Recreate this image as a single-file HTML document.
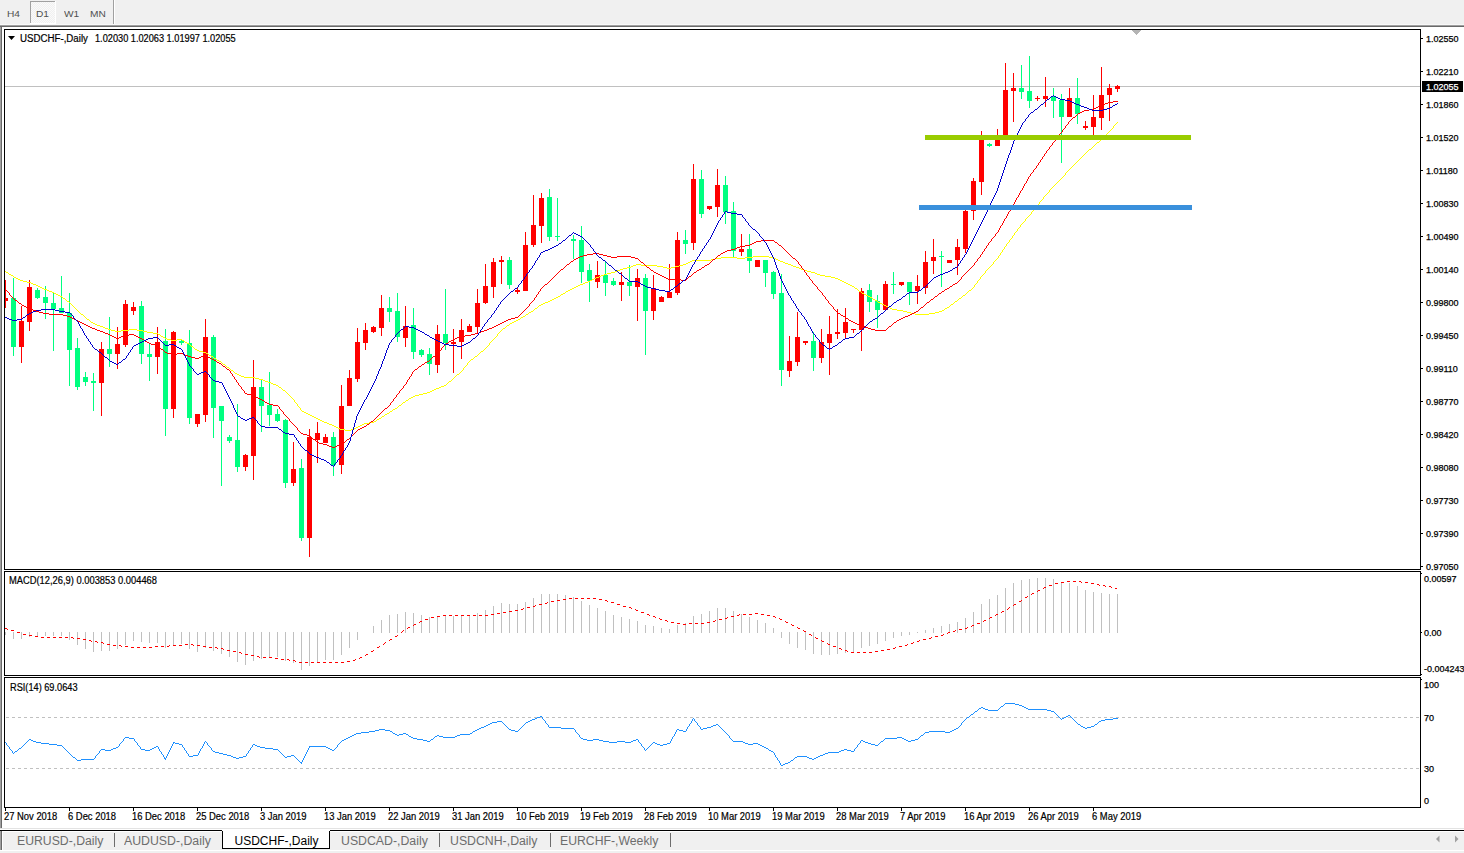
<!DOCTYPE html>
<html><head><meta charset="utf-8"><style>
html,body{margin:0;padding:0;width:1464px;height:853px;overflow:hidden;background:#f0f0f0}
.t{position:absolute;white-space:nowrap;font-family:'Liberation Sans', sans-serif;line-height:1;transform-origin:0 0}
svg{display:block}
</style></head><body>
<svg style="position:absolute;left:0;top:0" width="1464" height="853" shape-rendering="crispEdges"><defs><pattern id="chk" width="2" height="2" patternUnits="userSpaceOnUse"><rect width="2" height="2" fill="#f0f0f0"/><rect width="1" height="1" fill="#fafafa"/><rect x="1" y="1" width="1" height="1" fill="#fafafa"/></pattern>
<pattern id="dash" width="6" height="1" patternUnits="userSpaceOnUse"><rect width="3" height="1" fill="#c0c0c0"/></pattern></defs><rect x="0" y="0" width="1464" height="853" fill="#f0f0f0"/><rect x="30" y="1" width="26" height="23" fill="url(#chk)"/><rect x="30" y="1" width="25" height="1" fill="#a0a0a0"/><rect x="30" y="1" width="1" height="22" fill="#a0a0a0"/><rect x="55" y="1" width="1" height="23" fill="#ffffff"/><rect x="30" y="23" width="26" height="1" fill="#ffffff"/><rect x="113" y="0" width="1" height="25" fill="#a0a0a0"/><rect x="114" y="0" width="1" height="24" fill="#ffffff"/><rect x="0" y="24" width="1464" height="1" fill="#f8f8f8"/><rect x="0" y="25" width="1464" height="1" fill="#a0a0a0"/><rect x="0" y="26" width="1464" height="1" fill="#696969"/><rect x="2" y="27" width="1462" height="801" fill="#ffffff"/><rect x="0" y="27" width="1" height="802" fill="#a0a0a0"/><rect x="1" y="27" width="1" height="802" fill="#696969"/><rect x="0" y="828" width="1464" height="1" fill="#e3e3e3"/><rect x="0" y="829" width="1464" height="1" fill="#ffffff"/><rect x="0" y="830" width="1464" height="1" fill="#000000"/><rect x="0" y="831" width="1464" height="1" fill="#ffffff"/><rect x="0" y="831" width="1" height="19" fill="#a0a0a0"/><rect x="1" y="831" width="1" height="19" fill="#696969"/><rect x="2" y="832" width="1" height="18" fill="#ffffff"/><rect x="0" y="850" width="1464" height="1" fill="#ffffff"/><rect x="4.5" y="29.5" width="1416" height="540" fill="none" stroke="#000" stroke-width="1"/><rect x="4.5" y="571.5" width="1416" height="104" fill="none" stroke="#000" stroke-width="1"/><rect x="4.5" y="677.5" width="1416" height="130" fill="none" stroke="#000" stroke-width="1"/><rect x="1421" y="38" width="2" height="1" fill="#000"/><rect x="1421" y="71" width="2" height="1" fill="#000"/><rect x="1421" y="104" width="2" height="1" fill="#000"/><rect x="1421" y="137" width="2" height="1" fill="#000"/><rect x="1421" y="170" width="2" height="1" fill="#000"/><rect x="1421" y="203" width="2" height="1" fill="#000"/><rect x="1421" y="236" width="2" height="1" fill="#000"/><rect x="1421" y="269" width="2" height="1" fill="#000"/><rect x="1421" y="302" width="2" height="1" fill="#000"/><rect x="1421" y="335" width="2" height="1" fill="#000"/><rect x="1421" y="368" width="2" height="1" fill="#000"/><rect x="1421" y="401" width="2" height="1" fill="#000"/><rect x="1421" y="434" width="2" height="1" fill="#000"/><rect x="1421" y="467" width="2" height="1" fill="#000"/><rect x="1421" y="500" width="2" height="1" fill="#000"/><rect x="1421" y="533" width="2" height="1" fill="#000"/><rect x="1421" y="566" width="2" height="1" fill="#000"/><rect x="5" y="86" width="1415" height="1" fill="#c0c0c0"/><clipPath id="cm"><rect x="5" y="30" width="1415" height="539"/></clipPath><g clip-path="url(#cm)"><rect x="5" y="280" width="1" height="28" fill="#ff0000"/><rect x="3" y="298" width="5" height="3" fill="#ff0000"/><rect x="13" y="278" width="1" height="78" fill="#00ff80"/><rect x="11" y="298" width="5" height="49" fill="#00ff80"/><rect x="21" y="306" width="1" height="57" fill="#ff0000"/><rect x="19" y="321" width="5" height="26" fill="#ff0000"/><rect x="29" y="280" width="1" height="51" fill="#ff0000"/><rect x="27" y="287" width="5" height="35" fill="#ff0000"/><rect x="37" y="288" width="1" height="11" fill="#00ff80"/><rect x="35" y="290" width="5" height="8" fill="#00ff80"/><rect x="45" y="286" width="1" height="33" fill="#00ff80"/><rect x="43" y="297" width="5" height="6" fill="#00ff80"/><rect x="53" y="292" width="1" height="59" fill="#00ff80"/><rect x="51" y="303" width="5" height="6" fill="#00ff80"/><rect x="61" y="276" width="1" height="37" fill="#00ff80"/><rect x="59" y="308" width="5" height="5" fill="#00ff80"/><rect x="69" y="293" width="1" height="93" fill="#00ff80"/><rect x="67" y="313" width="5" height="37" fill="#00ff80"/><rect x="77" y="338" width="1" height="52" fill="#00ff80"/><rect x="75" y="348" width="5" height="39" fill="#00ff80"/><rect x="85" y="372" width="1" height="14" fill="#00ff80"/><rect x="83" y="377" width="5" height="5" fill="#00ff80"/><rect x="93" y="373" width="1" height="38" fill="#00ff80"/><rect x="91" y="381" width="5" height="2" fill="#00ff80"/><rect x="101" y="342" width="1" height="74" fill="#ff0000"/><rect x="99" y="349" width="5" height="34" fill="#ff0000"/><rect x="109" y="317" width="1" height="50" fill="#00ff80"/><rect x="107" y="349" width="5" height="5" fill="#00ff80"/><rect x="117" y="327" width="1" height="42" fill="#ff0000"/><rect x="115" y="344" width="5" height="10" fill="#ff0000"/><rect x="125" y="300" width="1" height="47" fill="#ff0000"/><rect x="123" y="304" width="5" height="41" fill="#ff0000"/><rect x="133" y="302" width="1" height="13" fill="#ff0000"/><rect x="131" y="307" width="5" height="4" fill="#ff0000"/><rect x="141" y="301" width="1" height="63" fill="#00ff80"/><rect x="139" y="306" width="5" height="48" fill="#00ff80"/><rect x="149" y="344" width="1" height="37" fill="#00ff80"/><rect x="147" y="354" width="5" height="3" fill="#00ff80"/><rect x="157" y="327" width="1" height="47" fill="#ff0000"/><rect x="155" y="342" width="5" height="15" fill="#ff0000"/><rect x="165" y="329" width="1" height="107" fill="#00ff80"/><rect x="163" y="341" width="5" height="68" fill="#00ff80"/><rect x="173" y="331" width="1" height="87" fill="#ff0000"/><rect x="171" y="332" width="5" height="77" fill="#ff0000"/><rect x="181" y="340" width="1" height="5" fill="#00ff80"/><rect x="179" y="341" width="5" height="2" fill="#00ff80"/><rect x="189" y="330" width="1" height="94" fill="#00ff80"/><rect x="187" y="343" width="5" height="75" fill="#00ff80"/><rect x="197" y="414" width="1" height="13" fill="#ff0000"/><rect x="195" y="414" width="5" height="10" fill="#ff0000"/><rect x="205" y="319" width="1" height="103" fill="#ff0000"/><rect x="203" y="337" width="5" height="78" fill="#ff0000"/><rect x="213" y="335" width="1" height="103" fill="#00ff80"/><rect x="211" y="337" width="5" height="71" fill="#00ff80"/><rect x="221" y="406" width="1" height="80" fill="#00ff80"/><rect x="219" y="406" width="5" height="15" fill="#00ff80"/><rect x="229" y="435" width="1" height="8" fill="#00ff80"/><rect x="227" y="437" width="5" height="4" fill="#00ff80"/><rect x="237" y="404" width="1" height="68" fill="#00ff80"/><rect x="235" y="440" width="5" height="27" fill="#00ff80"/><rect x="245" y="454" width="1" height="17" fill="#ff0000"/><rect x="243" y="455" width="5" height="12" fill="#ff0000"/><rect x="253" y="360" width="1" height="120" fill="#ff0000"/><rect x="251" y="387" width="5" height="69" fill="#ff0000"/><rect x="261" y="379" width="1" height="53" fill="#00ff80"/><rect x="259" y="387" width="5" height="19" fill="#00ff80"/><rect x="269" y="372" width="1" height="54" fill="#00ff80"/><rect x="267" y="405" width="5" height="10" fill="#00ff80"/><rect x="277" y="409" width="1" height="13" fill="#00ff80"/><rect x="275" y="414" width="5" height="7" fill="#00ff80"/><rect x="285" y="419" width="1" height="69" fill="#00ff80"/><rect x="283" y="420" width="5" height="63" fill="#00ff80"/><rect x="293" y="442" width="1" height="44" fill="#ff0000"/><rect x="291" y="469" width="5" height="14" fill="#ff0000"/><rect x="301" y="459" width="1" height="82" fill="#00ff80"/><rect x="299" y="468" width="5" height="70" fill="#00ff80"/><rect x="309" y="429" width="1" height="128" fill="#ff0000"/><rect x="307" y="437" width="5" height="101" fill="#ff0000"/><rect x="317" y="422" width="1" height="41" fill="#ff0000"/><rect x="315" y="433" width="5" height="7" fill="#ff0000"/><rect x="325" y="434" width="1" height="9" fill="#ff0000"/><rect x="323" y="437" width="5" height="6" fill="#ff0000"/><rect x="333" y="432" width="1" height="44" fill="#00ff80"/><rect x="331" y="437" width="5" height="28" fill="#00ff80"/><rect x="341" y="385" width="1" height="89" fill="#ff0000"/><rect x="339" y="406" width="5" height="59" fill="#ff0000"/><rect x="349" y="370" width="1" height="36" fill="#ff0000"/><rect x="347" y="378" width="5" height="28" fill="#ff0000"/><rect x="357" y="328" width="1" height="54" fill="#ff0000"/><rect x="355" y="342" width="5" height="37" fill="#ff0000"/><rect x="365" y="323" width="1" height="27" fill="#ff0000"/><rect x="363" y="330" width="5" height="13" fill="#ff0000"/><rect x="373" y="326" width="1" height="7" fill="#ff0000"/><rect x="371" y="327" width="5" height="5" fill="#ff0000"/><rect x="381" y="295" width="1" height="41" fill="#ff0000"/><rect x="379" y="308" width="5" height="20" fill="#ff0000"/><rect x="389" y="297" width="1" height="25" fill="#00ff80"/><rect x="387" y="308" width="5" height="4" fill="#00ff80"/><rect x="397" y="293" width="1" height="49" fill="#00ff80"/><rect x="395" y="311" width="5" height="26" fill="#00ff80"/><rect x="405" y="306" width="1" height="41" fill="#ff0000"/><rect x="403" y="326" width="5" height="12" fill="#ff0000"/><rect x="413" y="308" width="1" height="51" fill="#00ff80"/><rect x="411" y="325" width="5" height="27" fill="#00ff80"/><rect x="421" y="349" width="1" height="8" fill="#00ff80"/><rect x="419" y="350" width="5" height="5" fill="#00ff80"/><rect x="429" y="348" width="1" height="27" fill="#00ff80"/><rect x="427" y="354" width="5" height="10" fill="#00ff80"/><rect x="437" y="325" width="1" height="48" fill="#ff0000"/><rect x="435" y="334" width="5" height="31" fill="#ff0000"/><rect x="445" y="289" width="1" height="61" fill="#00ff80"/><rect x="443" y="334" width="5" height="9" fill="#00ff80"/><rect x="453" y="329" width="1" height="44" fill="#ff0000"/><rect x="451" y="342" width="5" height="2" fill="#ff0000"/><rect x="461" y="319" width="1" height="40" fill="#ff0000"/><rect x="459" y="330" width="5" height="12" fill="#ff0000"/><rect x="469" y="324" width="1" height="8" fill="#ff0000"/><rect x="467" y="326" width="5" height="6" fill="#ff0000"/><rect x="477" y="289" width="1" height="44" fill="#ff0000"/><rect x="475" y="303" width="5" height="24" fill="#ff0000"/><rect x="485" y="264" width="1" height="40" fill="#ff0000"/><rect x="483" y="286" width="5" height="17" fill="#ff0000"/><rect x="493" y="258" width="1" height="40" fill="#ff0000"/><rect x="491" y="262" width="5" height="25" fill="#ff0000"/><rect x="501" y="256" width="1" height="28" fill="#ff0000"/><rect x="499" y="260" width="5" height="2" fill="#ff0000"/><rect x="509" y="257" width="1" height="32" fill="#00ff80"/><rect x="507" y="260" width="5" height="25" fill="#00ff80"/><rect x="517" y="287" width="1" height="7" fill="#ff0000"/><rect x="515" y="290" width="5" height="2" fill="#ff0000"/><rect x="525" y="232" width="1" height="59" fill="#ff0000"/><rect x="523" y="245" width="5" height="46" fill="#ff0000"/><rect x="533" y="195" width="1" height="52" fill="#ff0000"/><rect x="531" y="225" width="5" height="20" fill="#ff0000"/><rect x="541" y="193" width="1" height="50" fill="#ff0000"/><rect x="539" y="198" width="5" height="28" fill="#ff0000"/><rect x="549" y="189" width="1" height="52" fill="#00ff80"/><rect x="547" y="197" width="5" height="40" fill="#00ff80"/><rect x="557" y="198" width="1" height="43" fill="#00ff80"/><rect x="555" y="236" width="5" height="1" fill="#00ff80"/><rect x="573" y="235" width="1" height="24" fill="#00ff80"/><rect x="571" y="239" width="5" height="2" fill="#00ff80"/><rect x="581" y="226" width="1" height="57" fill="#00ff80"/><rect x="579" y="240" width="5" height="32" fill="#00ff80"/><rect x="589" y="264" width="1" height="38" fill="#00ff80"/><rect x="587" y="270" width="5" height="11" fill="#00ff80"/><rect x="597" y="261" width="1" height="27" fill="#ff0000"/><rect x="595" y="275" width="5" height="7" fill="#ff0000"/><rect x="605" y="261" width="1" height="35" fill="#00ff80"/><rect x="603" y="275" width="5" height="8" fill="#00ff80"/><rect x="613" y="278" width="1" height="8" fill="#00ff80"/><rect x="611" y="281" width="5" height="4" fill="#00ff80"/><rect x="621" y="272" width="1" height="29" fill="#ff0000"/><rect x="619" y="282" width="5" height="3" fill="#ff0000"/><rect x="629" y="265" width="1" height="31" fill="#00ff80"/><rect x="627" y="282" width="5" height="4" fill="#00ff80"/><rect x="637" y="269" width="1" height="52" fill="#ff0000"/><rect x="635" y="278" width="5" height="9" fill="#ff0000"/><rect x="645" y="274" width="1" height="81" fill="#00ff80"/><rect x="643" y="278" width="5" height="33" fill="#00ff80"/><rect x="653" y="275" width="1" height="45" fill="#ff0000"/><rect x="651" y="288" width="5" height="23" fill="#ff0000"/><rect x="661" y="296" width="1" height="6" fill="#ff0000"/><rect x="659" y="297" width="5" height="5" fill="#ff0000"/><rect x="669" y="264" width="1" height="34" fill="#ff0000"/><rect x="667" y="292" width="5" height="6" fill="#ff0000"/><rect x="677" y="232" width="1" height="63" fill="#ff0000"/><rect x="675" y="240" width="5" height="53" fill="#ff0000"/><rect x="685" y="230" width="1" height="24" fill="#00ff80"/><rect x="683" y="240" width="5" height="4" fill="#00ff80"/><rect x="693" y="164" width="1" height="86" fill="#ff0000"/><rect x="691" y="179" width="5" height="64" fill="#ff0000"/><rect x="701" y="170" width="1" height="48" fill="#00ff80"/><rect x="699" y="179" width="5" height="35" fill="#00ff80"/><rect x="709" y="206" width="1" height="4" fill="#ff0000"/><rect x="707" y="206" width="5" height="3" fill="#ff0000"/><rect x="717" y="169" width="1" height="48" fill="#ff0000"/><rect x="715" y="185" width="5" height="22" fill="#ff0000"/><rect x="725" y="176" width="1" height="48" fill="#00ff80"/><rect x="723" y="185" width="5" height="27" fill="#00ff80"/><rect x="733" y="202" width="1" height="56" fill="#00ff80"/><rect x="731" y="211" width="5" height="40" fill="#00ff80"/><rect x="741" y="234" width="1" height="22" fill="#ff0000"/><rect x="739" y="249" width="5" height="3" fill="#ff0000"/><rect x="749" y="234" width="1" height="39" fill="#00ff80"/><rect x="747" y="249" width="5" height="12" fill="#00ff80"/><rect x="757" y="260" width="1" height="7" fill="#ff0000"/><rect x="755" y="260" width="5" height="7" fill="#ff0000"/><rect x="765" y="260" width="1" height="27" fill="#00ff80"/><rect x="763" y="260" width="5" height="13" fill="#00ff80"/><rect x="773" y="271" width="1" height="28" fill="#00ff80"/><rect x="771" y="272" width="5" height="22" fill="#00ff80"/><rect x="781" y="274" width="1" height="112" fill="#00ff80"/><rect x="779" y="293" width="5" height="77" fill="#00ff80"/><rect x="789" y="336" width="1" height="41" fill="#ff0000"/><rect x="787" y="361" width="5" height="10" fill="#ff0000"/><rect x="797" y="312" width="1" height="54" fill="#ff0000"/><rect x="795" y="337" width="5" height="25" fill="#ff0000"/><rect x="805" y="341" width="1" height="4" fill="#ff0000"/><rect x="803" y="341" width="5" height="2" fill="#ff0000"/><rect x="813" y="332" width="1" height="39" fill="#00ff80"/><rect x="811" y="341" width="5" height="17" fill="#00ff80"/><rect x="821" y="329" width="1" height="34" fill="#ff0000"/><rect x="819" y="342" width="5" height="16" fill="#ff0000"/><rect x="829" y="316" width="1" height="59" fill="#ff0000"/><rect x="827" y="334" width="5" height="9" fill="#ff0000"/><rect x="837" y="309" width="1" height="30" fill="#ff0000"/><rect x="835" y="332" width="5" height="2" fill="#ff0000"/><rect x="845" y="308" width="1" height="30" fill="#ff0000"/><rect x="843" y="322" width="5" height="11" fill="#ff0000"/><rect x="853" y="329" width="1" height="4" fill="#ff0000"/><rect x="851" y="329" width="5" height="1" fill="#ff0000"/><rect x="861" y="288" width="1" height="63" fill="#ff0000"/><rect x="859" y="291" width="5" height="39" fill="#ff0000"/><rect x="869" y="284" width="1" height="28" fill="#00ff80"/><rect x="867" y="290" width="5" height="12" fill="#00ff80"/><rect x="877" y="295" width="1" height="33" fill="#00ff80"/><rect x="875" y="301" width="5" height="9" fill="#00ff80"/><rect x="885" y="281" width="1" height="29" fill="#ff0000"/><rect x="883" y="284" width="5" height="26" fill="#ff0000"/><rect x="893" y="272" width="1" height="22" fill="#00ff80"/><rect x="891" y="284" width="5" height="1" fill="#00ff80"/><rect x="901" y="282" width="1" height="4" fill="#ff0000"/><rect x="899" y="282" width="5" height="3" fill="#ff0000"/><rect x="909" y="282" width="1" height="23" fill="#00ff80"/><rect x="907" y="282" width="5" height="10" fill="#00ff80"/><rect x="917" y="275" width="1" height="29" fill="#ff0000"/><rect x="915" y="286" width="5" height="5" fill="#ff0000"/><rect x="925" y="251" width="1" height="43" fill="#ff0000"/><rect x="923" y="262" width="5" height="26" fill="#ff0000"/><rect x="933" y="239" width="1" height="35" fill="#ff0000"/><rect x="931" y="257" width="5" height="4" fill="#ff0000"/><rect x="941" y="251" width="1" height="36" fill="#00ff80"/><rect x="939" y="256" width="5" height="1" fill="#00ff80"/><rect x="949" y="260" width="1" height="3" fill="#ff0000"/><rect x="947" y="260" width="5" height="3" fill="#ff0000"/><rect x="957" y="239" width="1" height="36" fill="#ff0000"/><rect x="955" y="247" width="5" height="13" fill="#ff0000"/><rect x="965" y="210" width="1" height="43" fill="#ff0000"/><rect x="963" y="211" width="5" height="38" fill="#ff0000"/><rect x="973" y="178" width="1" height="42" fill="#ff0000"/><rect x="971" y="181" width="5" height="30" fill="#ff0000"/><rect x="981" y="131" width="1" height="64" fill="#ff0000"/><rect x="979" y="139" width="5" height="43" fill="#ff0000"/><rect x="989" y="143" width="1" height="4" fill="#00ff80"/><rect x="987" y="144" width="5" height="2" fill="#00ff80"/><rect x="997" y="129" width="1" height="17" fill="#ff0000"/><rect x="995" y="140" width="5" height="6" fill="#ff0000"/><rect x="1005" y="63" width="1" height="77" fill="#ff0000"/><rect x="1003" y="90" width="5" height="50" fill="#ff0000"/><rect x="1013" y="73" width="1" height="49" fill="#ff0000"/><rect x="1011" y="88" width="5" height="3" fill="#ff0000"/><rect x="1021" y="65" width="1" height="34" fill="#00ff80"/><rect x="1019" y="88" width="5" height="4" fill="#00ff80"/><rect x="1029" y="56" width="1" height="52" fill="#00ff80"/><rect x="1027" y="91" width="5" height="10" fill="#00ff80"/><rect x="1037" y="96" width="1" height="5" fill="#ff0000"/><rect x="1035" y="98" width="5" height="1" fill="#ff0000"/><rect x="1045" y="77" width="1" height="30" fill="#ff0000"/><rect x="1043" y="96" width="5" height="3" fill="#ff0000"/><rect x="1053" y="88" width="1" height="30" fill="#00ff80"/><rect x="1051" y="96" width="5" height="5" fill="#00ff80"/><rect x="1061" y="94" width="1" height="69" fill="#00ff80"/><rect x="1059" y="100" width="5" height="17" fill="#00ff80"/><rect x="1069" y="88" width="1" height="29" fill="#ff0000"/><rect x="1067" y="98" width="5" height="19" fill="#ff0000"/><rect x="1077" y="78" width="1" height="46" fill="#00ff80"/><rect x="1075" y="98" width="5" height="16" fill="#00ff80"/><rect x="1085" y="121" width="1" height="9" fill="#ff0000"/><rect x="1083" y="126" width="5" height="2" fill="#ff0000"/><rect x="1093" y="95" width="1" height="40" fill="#ff0000"/><rect x="1091" y="117" width="5" height="10" fill="#ff0000"/><rect x="1101" y="67" width="1" height="63" fill="#ff0000"/><rect x="1099" y="95" width="5" height="23" fill="#ff0000"/><rect x="1109" y="84" width="1" height="37" fill="#ff0000"/><rect x="1107" y="88" width="5" height="7" fill="#ff0000"/><rect x="1117" y="85" width="1" height="7" fill="#ff0000"/><rect x="1115" y="86" width="5" height="3" fill="#ff0000"/><path d="M1117 122h1v1h-1zM1116 123h1v1h-1zM1115 124h1v1h-1zM1114 125h1v1h-1zM1113 126h1v1h-1zM1113 127h1v1h-1zM1112 128h1v1h-1zM1111 129h1v1h-1zM1110 130h1v1h-1zM1109 131h1v1h-1zM1108 132h1v1h-1zM1107 133h1v1h-1zM1106 134h1v1h-1zM1105 135h1v1h-1zM1104 136h1v1h-1zM1103 137h1v1h-1zM1102 138h1v1h-1zM1101 139h1v1h-1zM1100 140h1v1h-1zM1099 141h1v1h-1zM1097 142h2v1h-2zM1096 143h1v1h-1zM1095 144h1v1h-1zM1094 145h1v1h-1zM1093 146h1v1h-1zM1092 147h1v1h-1zM1091 148h1v1h-1zM1089 149h2v1h-2zM1088 150h1v1h-1zM1087 151h1v1h-1zM1086 152h1v1h-1zM1085 153h1v1h-1zM1084 154h1v1h-1zM1083 155h1v1h-1zM1082 156h1v1h-1zM1081 157h1v1h-1zM1080 158h1v1h-1zM1079 159h1v1h-1zM1078 160h1v1h-1zM1077 161h1v1h-1zM1076 162h1v1h-1zM1075 163h1v1h-1zM1074 164h1v1h-1zM1073 165h1v1h-1zM1072 166h1v1h-1zM1071 167h1v1h-1zM1070 168h1v1h-1zM1069 169h1v1h-1zM1068 170h1v1h-1zM1067 171h1v1h-1zM1066 172h1v1h-1zM1065 173h1v1h-1zM1065 174h1v1h-1zM1064 175h1v1h-1zM1063 176h1v1h-1zM1062 177h1v1h-1zM1061 178h1v1h-1zM1060 179h1v1h-1zM1059 180h1v1h-1zM1058 181h1v1h-1zM1057 182h1v1h-1zM1056 183h1v1h-1zM1055 184h1v1h-1zM1054 185h1v1h-1zM1053 186h1v1h-1zM1052 187h1v1h-1zM1051 188h1v1h-1zM1050 189h1v1h-1zM1049 190h1v1h-1zM1049 191h1v1h-1zM1048 192h1v1h-1zM1047 193h1v1h-1zM1046 194h1v1h-1zM1045 195h1v1h-1zM1044 196h1v1h-1zM1043 197h1v1h-1zM1043 198h1v1h-1zM1042 199h1v1h-1zM1041 200h1v1h-1zM1040 201h1v1h-1zM1039 202h1v1h-1zM1039 203h1v1h-1zM1038 204h1v1h-1zM1037 205h1v1h-1zM1036 206h1v1h-1zM1035 207h1v1h-1zM1035 208h1v1h-1zM1034 209h1v1h-1zM1033 210h1v1h-1zM1032 211h1v1h-1zM1031 212h1v1h-1zM1031 213h1v1h-1zM1030 214h1v1h-1zM1029 215h1v1h-1zM1028 216h1v1h-1zM1027 217h1v1h-1zM1026 218h1v1h-1zM1025 219h1v1h-1zM1025 220h1v1h-1zM1024 221h1v1h-1zM1023 222h1v1h-1zM1022 223h1v1h-1zM1021 224h1v1h-1zM1020 225h1v1h-1zM1020 226h1v1h-1zM1019 227h1v1h-1zM1018 228h1v1h-1zM1017 229h1v1h-1zM1017 230h1v1h-1zM1016 231h1v1h-1zM1015 232h1v1h-1zM1014 233h1v1h-1zM1014 234h1v1h-1zM1013 235h1v1h-1zM1012 236h1v1h-1zM1012 237h1v1h-1zM1011 238h1v1h-1zM1010 239h1v1h-1zM1009 240h1v1h-1zM1009 241h1v1h-1zM1008 242h1v1h-1zM1007 243h1v1h-1zM1006 244h1v1h-1zM1006 245h1v1h-1zM1005 246h1v1h-1zM1004 247h1v1h-1zM1004 248h1v1h-1zM1003 249h1v1h-1zM1002 250h1v1h-1zM1002 251h1v1h-1zM1001 252h1v1h-1zM1000 253h1v1h-1zM1000 254h1v1h-1zM999 255h1v1h-1zM753 256h16v1h-16zM998 256h1v1h-1zM721 257h16v1h-16zM745 257h8v1h-8zM769 257h5v1h-5zM998 257h1v1h-1zM715 258h6v1h-6zM737 258h8v1h-8zM774 258h2v1h-2zM997 258h1v1h-1zM711 259h4v1h-4zM776 259h2v1h-2zM996 259h1v1h-1zM692 260h19v1h-19zM778 260h2v1h-2zM995 260h1v1h-1zM690 261h2v1h-2zM780 261h3v1h-3zM994 261h1v1h-1zM688 262h2v1h-2zM783 262h2v1h-2zM993 262h1v1h-1zM686 263h2v1h-2zM785 263h3v1h-3zM993 263h1v1h-1zM636 264h5v1h-5zM683 264h3v1h-3zM788 264h3v1h-3zM992 264h1v1h-1zM633 265h3v1h-3zM641 265h16v1h-16zM679 265h4v1h-4zM791 265h2v1h-2zM991 265h1v1h-1zM631 266h2v1h-2zM657 266h6v1h-6zM675 266h4v1h-4zM793 266h3v1h-3zM990 266h1v1h-1zM627 267h4v1h-4zM663 267h4v1h-4zM671 267h4v1h-4zM796 267h3v1h-3zM989 267h1v1h-1zM623 268h4v1h-4zM667 268h4v1h-4zM799 268h2v1h-2zM988 268h1v1h-1zM620 269h3v1h-3zM801 269h3v1h-3zM987 269h1v1h-1zM617 270h3v1h-3zM804 270h3v1h-3zM986 270h1v1h-1zM5 271h1v1h-1zM615 271h2v1h-2zM807 271h4v1h-4zM985 271h1v1h-1zM6 272h2v1h-2zM611 272h4v1h-4zM811 272h4v1h-4zM985 272h1v1h-1zM8 273h1v1h-1zM607 273h4v1h-4zM815 273h2v1h-2zM984 273h1v1h-1zM9 274h2v1h-2zM604 274h3v1h-3zM817 274h3v1h-3zM983 274h1v1h-1zM11 275h2v1h-2zM601 275h3v1h-3zM820 275h5v1h-5zM982 275h1v1h-1zM13 276h1v1h-1zM599 276h2v1h-2zM825 276h6v1h-6zM981 276h1v1h-1zM14 277h2v1h-2zM596 277h3v1h-3zM831 277h4v1h-4zM980 277h1v1h-1zM16 278h2v1h-2zM594 278h2v1h-2zM835 278h3v1h-3zM980 278h1v1h-1zM18 279h2v1h-2zM592 279h2v1h-2zM838 279h2v1h-2zM979 279h1v1h-1zM20 280h3v1h-3zM590 280h2v1h-2zM840 280h2v1h-2zM978 280h1v1h-1zM23 281h4v1h-4zM588 281h2v1h-2zM842 281h2v1h-2zM977 281h1v1h-1zM27 282h4v1h-4zM585 282h3v1h-3zM844 282h2v1h-2zM977 282h1v1h-1zM31 283h2v1h-2zM583 283h2v1h-2zM846 283h2v1h-2zM976 283h1v1h-1zM33 284h3v1h-3zM580 284h3v1h-3zM848 284h2v1h-2zM975 284h1v1h-1zM36 285h2v1h-2zM578 285h2v1h-2zM850 285h2v1h-2zM974 285h1v1h-1zM38 286h2v1h-2zM576 286h2v1h-2zM852 286h2v1h-2zM974 286h1v1h-1zM40 287h2v1h-2zM574 287h2v1h-2zM854 287h1v1h-1zM973 287h1v1h-1zM42 288h2v1h-2zM572 288h2v1h-2zM855 288h2v1h-2zM972 288h1v1h-1zM44 289h3v1h-3zM570 289h2v1h-2zM857 289h1v1h-1zM971 289h1v1h-1zM47 290h2v1h-2zM568 290h2v1h-2zM858 290h1v1h-1zM969 290h2v1h-2zM49 291h3v1h-3zM566 291h2v1h-2zM859 291h2v1h-2zM968 291h1v1h-1zM52 292h2v1h-2zM565 292h1v1h-1zM861 292h1v1h-1zM967 292h1v1h-1zM54 293h2v1h-2zM563 293h2v1h-2zM862 293h2v1h-2zM966 293h1v1h-1zM56 294h2v1h-2zM561 294h2v1h-2zM864 294h2v1h-2zM965 294h1v1h-1zM58 295h2v1h-2zM560 295h1v1h-1zM866 295h2v1h-2zM963 295h2v1h-2zM60 296h2v1h-2zM558 296h2v1h-2zM868 296h2v1h-2zM962 296h1v1h-1zM62 297h1v1h-1zM556 297h2v1h-2zM870 297h2v1h-2zM961 297h1v1h-1zM63 298h2v1h-2zM554 298h2v1h-2zM872 298h1v1h-1zM959 298h2v1h-2zM65 299h1v1h-1zM552 299h2v1h-2zM873 299h2v1h-2zM958 299h1v1h-1zM66 300h1v1h-1zM550 300h2v1h-2zM875 300h2v1h-2zM957 300h1v1h-1zM67 301h2v1h-2zM548 301h2v1h-2zM877 301h1v1h-1zM955 301h2v1h-2zM69 302h1v1h-1zM545 302h3v1h-3zM878 302h2v1h-2zM954 302h1v1h-1zM70 303h1v1h-1zM543 303h2v1h-2zM880 303h2v1h-2zM953 303h1v1h-1zM71 304h1v1h-1zM541 304h2v1h-2zM882 304h2v1h-2zM951 304h2v1h-2zM72 305h1v1h-1zM539 305h2v1h-2zM884 305h2v1h-2zM950 305h1v1h-1zM73 306h1v1h-1zM538 306h1v1h-1zM886 306h2v1h-2zM949 306h1v1h-1zM74 307h1v1h-1zM537 307h1v1h-1zM888 307h2v1h-2zM947 307h2v1h-2zM75 308h1v1h-1zM535 308h2v1h-2zM890 308h2v1h-2zM945 308h2v1h-2zM76 309h1v1h-1zM534 309h1v1h-1zM892 309h5v1h-5zM944 309h1v1h-1zM77 310h1v1h-1zM533 310h1v1h-1zM897 310h6v1h-6zM942 310h2v1h-2zM78 311h1v1h-1zM531 311h2v1h-2zM903 311h4v1h-4zM939 311h3v1h-3zM79 312h1v1h-1zM529 312h2v1h-2zM907 312h4v1h-4zM935 312h4v1h-4zM80 313h1v1h-1zM528 313h1v1h-1zM911 313h4v1h-4zM929 313h6v1h-6zM81 314h2v1h-2zM526 314h2v1h-2zM915 314h14v1h-14zM83 315h1v1h-1zM525 315h1v1h-1zM84 316h1v1h-1zM523 316h2v1h-2zM85 317h1v1h-1zM521 317h2v1h-2zM86 318h1v1h-1zM520 318h1v1h-1zM87 319h2v1h-2zM518 319h2v1h-2zM89 320h1v1h-1zM516 320h2v1h-2zM90 321h1v1h-1zM514 321h2v1h-2zM91 322h2v1h-2zM512 322h2v1h-2zM93 323h2v1h-2zM510 323h2v1h-2zM95 324h2v1h-2zM509 324h1v1h-1zM97 325h3v1h-3zM507 325h2v1h-2zM100 326h3v1h-3zM506 326h1v1h-1zM103 327h2v1h-2zM505 327h1v1h-1zM105 328h3v1h-3zM503 328h2v1h-2zM108 329h3v1h-3zM129 329h8v1h-8zM502 329h1v1h-1zM111 330h4v1h-4zM121 330h8v1h-8zM137 330h6v1h-6zM501 330h1v1h-1zM115 331h6v1h-6zM143 331h4v1h-4zM500 331h1v1h-1zM147 332h6v1h-6zM499 332h1v1h-1zM153 333h5v1h-5zM498 333h1v1h-1zM158 334h2v1h-2zM497 334h1v1h-1zM160 335h1v1h-1zM497 335h1v1h-1zM161 336h2v1h-2zM496 336h1v1h-1zM163 337h2v1h-2zM495 337h1v1h-1zM165 338h2v1h-2zM494 338h1v1h-1zM167 339h4v1h-4zM177 339h5v1h-5zM493 339h1v1h-1zM171 340h6v1h-6zM182 340h2v1h-2zM492 340h1v1h-1zM184 341h1v1h-1zM491 341h1v1h-1zM185 342h2v1h-2zM490 342h1v1h-1zM187 343h2v1h-2zM489 343h1v1h-1zM189 344h1v1h-1zM489 344h1v1h-1zM190 345h1v1h-1zM488 345h1v1h-1zM191 346h2v1h-2zM487 346h1v1h-1zM193 347h1v1h-1zM486 347h1v1h-1zM194 348h1v1h-1zM485 348h1v1h-1zM195 349h2v1h-2zM484 349h1v1h-1zM197 350h2v1h-2zM483 350h1v1h-1zM199 351h4v1h-4zM481 351h2v1h-2zM203 352h3v1h-3zM480 352h1v1h-1zM206 353h2v1h-2zM479 353h1v1h-1zM208 354h1v1h-1zM478 354h1v1h-1zM209 355h2v1h-2zM477 355h1v1h-1zM211 356h2v1h-2zM475 356h2v1h-2zM213 357h1v1h-1zM474 357h1v1h-1zM214 358h2v1h-2zM473 358h1v1h-1zM216 359h1v1h-1zM471 359h2v1h-2zM217 360h2v1h-2zM470 360h1v1h-1zM219 361h2v1h-2zM469 361h1v1h-1zM221 362h1v1h-1zM468 362h1v1h-1zM222 363h1v1h-1zM467 363h1v1h-1zM223 364h2v1h-2zM467 364h1v1h-1zM225 365h1v1h-1zM466 365h1v1h-1zM226 366h1v1h-1zM465 366h1v1h-1zM227 367h2v1h-2zM464 367h1v1h-1zM229 368h1v1h-1zM463 368h1v1h-1zM230 369h1v1h-1zM463 369h1v1h-1zM231 370h2v1h-2zM462 370h1v1h-1zM233 371h1v1h-1zM461 371h1v1h-1zM234 372h1v1h-1zM460 372h1v1h-1zM235 373h2v1h-2zM459 373h1v1h-1zM237 374h2v1h-2zM457 374h2v1h-2zM239 375h2v1h-2zM456 375h1v1h-1zM241 376h3v1h-3zM455 376h1v1h-1zM244 377h11v1h-11zM454 377h1v1h-1zM255 378h4v1h-4zM453 378h1v1h-1zM259 379h4v1h-4zM452 379h1v1h-1zM263 380h2v1h-2zM451 380h1v1h-1zM265 381h3v1h-3zM449 381h2v1h-2zM268 382h3v1h-3zM448 382h1v1h-1zM271 383h2v1h-2zM447 383h1v1h-1zM273 384h3v1h-3zM446 384h1v1h-1zM276 385h2v1h-2zM444 385h2v1h-2zM278 386h1v1h-1zM441 386h3v1h-3zM279 387h2v1h-2zM439 387h2v1h-2zM281 388h1v1h-1zM436 388h3v1h-3zM282 389h1v1h-1zM434 389h2v1h-2zM283 390h2v1h-2zM432 390h2v1h-2zM285 391h1v1h-1zM430 391h2v1h-2zM286 392h1v1h-1zM427 392h3v1h-3zM287 393h1v1h-1zM423 393h4v1h-4zM288 394h1v1h-1zM419 394h4v1h-4zM289 395h1v1h-1zM415 395h4v1h-4zM290 396h1v1h-1zM413 396h2v1h-2zM291 397h1v1h-1zM411 397h2v1h-2zM292 398h1v1h-1zM409 398h2v1h-2zM293 399h1v1h-1zM408 399h1v1h-1zM294 400h1v1h-1zM406 400h2v1h-2zM294 401h1v1h-1zM405 401h1v1h-1zM295 402h1v1h-1zM403 402h2v1h-2zM296 403h1v1h-1zM402 403h1v1h-1zM297 404h1v1h-1zM401 404h1v1h-1zM297 405h1v1h-1zM399 405h2v1h-2zM298 406h1v1h-1zM398 406h1v1h-1zM299 407h1v1h-1zM397 407h1v1h-1zM300 408h1v1h-1zM395 408h2v1h-2zM300 409h1v1h-1zM393 409h2v1h-2zM301 410h1v1h-1zM392 410h1v1h-1zM302 411h2v1h-2zM390 411h2v1h-2zM304 412h2v1h-2zM389 412h1v1h-1zM306 413h2v1h-2zM387 413h2v1h-2zM308 414h2v1h-2zM385 414h2v1h-2zM310 415h2v1h-2zM384 415h1v1h-1zM312 416h2v1h-2zM382 416h2v1h-2zM314 417h2v1h-2zM381 417h1v1h-1zM316 418h2v1h-2zM379 418h2v1h-2zM318 419h2v1h-2zM377 419h2v1h-2zM320 420h2v1h-2zM376 420h1v1h-1zM322 421h2v1h-2zM374 421h2v1h-2zM324 422h3v1h-3zM369 422h5v1h-5zM327 423h2v1h-2zM364 423h5v1h-5zM329 424h3v1h-3zM362 424h2v1h-2zM332 425h2v1h-2zM360 425h2v1h-2zM334 426h2v1h-2zM358 426h2v1h-2zM336 427h2v1h-2zM356 427h2v1h-2zM338 428h2v1h-2zM353 428h3v1h-3zM340 429h5v1h-5zM351 429h2v1h-2zM345 430h6v1h-6z" fill="#ffff00"/><path d="M1113 101h5v1h-5zM1108 102h5v1h-5zM1105 103h3v1h-3zM1103 104h2v1h-2zM1100 105h3v1h-3zM1098 106h2v1h-2zM1096 107h2v1h-2zM1094 108h2v1h-2zM1089 109h5v1h-5zM1084 110h5v1h-5zM1082 111h2v1h-2zM1080 112h2v1h-2zM1078 113h2v1h-2zM1077 114h1v1h-1zM1076 115h1v1h-1zM1075 116h1v1h-1zM1073 117h2v1h-2zM1072 118h1v1h-1zM1071 119h1v1h-1zM1070 120h1v1h-1zM1069 121h1v1h-1zM1068 122h1v1h-1zM1068 123h1v1h-1zM1067 124h1v1h-1zM1066 125h1v1h-1zM1065 126h1v1h-1zM1065 127h1v1h-1zM1064 128h1v1h-1zM1063 129h1v1h-1zM1062 130h1v1h-1zM1062 131h1v1h-1zM1061 132h1v1h-1zM1060 133h1v1h-1zM1059 134h1v1h-1zM1059 135h1v1h-1zM1058 136h1v1h-1zM1057 137h1v1h-1zM1056 138h1v1h-1zM1055 139h1v1h-1zM1055 140h1v1h-1zM1054 141h1v1h-1zM1053 142h1v1h-1zM1052 143h1v1h-1zM1052 144h1v1h-1zM1051 145h1v1h-1zM1050 146h1v1h-1zM1049 147h1v1h-1zM1049 148h1v1h-1zM1048 149h1v1h-1zM1047 150h1v1h-1zM1046 151h1v1h-1zM1046 152h1v1h-1zM1045 153h1v1h-1zM1044 154h1v1h-1zM1044 155h1v1h-1zM1043 156h1v1h-1zM1042 157h1v1h-1zM1042 158h1v1h-1zM1041 159h1v1h-1zM1040 160h1v1h-1zM1040 161h1v1h-1zM1039 162h1v1h-1zM1038 163h1v1h-1zM1038 164h1v1h-1zM1037 165h1v1h-1zM1036 166h1v1h-1zM1036 167h1v1h-1zM1035 168h1v1h-1zM1034 169h1v1h-1zM1033 170h1v1h-1zM1033 171h1v1h-1zM1032 172h1v1h-1zM1031 173h1v1h-1zM1030 174h1v1h-1zM1030 175h1v1h-1zM1029 176h1v1h-1zM1028 177h1v1h-1zM1028 178h1v1h-1zM1027 179h1v1h-1zM1027 180h1v1h-1zM1026 181h1v1h-1zM1026 182h1v1h-1zM1025 183h1v1h-1zM1024 184h1v1h-1zM1024 185h1v1h-1zM1023 186h1v1h-1zM1023 187h1v1h-1zM1022 188h1v1h-1zM1022 189h1v1h-1zM1021 190h1v1h-1zM1020 191h1v1h-1zM1020 192h1v1h-1zM1019 193h1v1h-1zM1019 194h1v1h-1zM1018 195h1v1h-1zM1018 196h1v1h-1zM1017 197h1v1h-1zM1016 198h1v1h-1zM1016 199h1v1h-1zM1015 200h1v1h-1zM1015 201h1v1h-1zM1014 202h1v1h-1zM1014 203h1v1h-1zM1013 204h1v1h-1zM1012 205h1v1h-1zM1012 206h1v1h-1zM1011 207h1v1h-1zM1011 208h1v1h-1zM1010 209h1v1h-1zM1010 210h1v1h-1zM1009 211h1v1h-1zM1008 212h1v1h-1zM1008 213h1v1h-1zM1007 214h1v1h-1zM1007 215h1v1h-1zM1006 216h1v1h-1zM1006 217h1v1h-1zM1005 218h1v1h-1zM1004 219h1v1h-1zM1004 220h1v1h-1zM1003 221h1v1h-1zM1003 222h1v1h-1zM1002 223h1v1h-1zM1002 224h1v1h-1zM1001 225h1v1h-1zM1000 226h1v1h-1zM1000 227h1v1h-1zM999 228h1v1h-1zM999 229h1v1h-1zM998 230h1v1h-1zM998 231h1v1h-1zM997 232h1v1h-1zM996 233h1v1h-1zM995 234h1v1h-1zM995 235h1v1h-1zM994 236h1v1h-1zM993 237h1v1h-1zM992 238h1v1h-1zM991 239h1v1h-1zM761 240h13v1h-13zM991 240h1v1h-1zM756 241h5v1h-5zM774 241h1v1h-1zM990 241h1v1h-1zM754 242h2v1h-2zM775 242h2v1h-2zM989 242h1v1h-1zM752 243h2v1h-2zM777 243h1v1h-1zM988 243h1v1h-1zM750 244h2v1h-2zM778 244h1v1h-1zM988 244h1v1h-1zM745 245h5v1h-5zM779 245h2v1h-2zM987 245h1v1h-1zM740 246h5v1h-5zM781 246h1v1h-1zM986 246h1v1h-1zM737 247h3v1h-3zM782 247h1v1h-1zM986 247h1v1h-1zM735 248h2v1h-2zM783 248h1v1h-1zM985 248h1v1h-1zM731 249h4v1h-4zM784 249h1v1h-1zM984 249h1v1h-1zM727 250h4v1h-4zM785 250h1v1h-1zM984 250h1v1h-1zM725 251h2v1h-2zM786 251h1v1h-1zM983 251h1v1h-1zM723 252h2v1h-2zM787 252h1v1h-1zM982 252h1v1h-1zM593 253h6v1h-6zM721 253h2v1h-2zM788 253h1v1h-1zM982 253h1v1h-1zM587 254h6v1h-6zM599 254h4v1h-4zM720 254h1v1h-1zM789 254h1v1h-1zM981 254h1v1h-1zM583 255h4v1h-4zM603 255h4v1h-4zM718 255h2v1h-2zM790 255h1v1h-1zM980 255h1v1h-1zM580 256h3v1h-3zM607 256h4v1h-4zM617 256h14v1h-14zM717 256h1v1h-1zM791 256h1v1h-1zM980 256h1v1h-1zM578 257h2v1h-2zM611 257h6v1h-6zM631 257h4v1h-4zM716 257h1v1h-1zM792 257h1v1h-1zM979 257h1v1h-1zM576 258h2v1h-2zM635 258h3v1h-3zM715 258h1v1h-1zM793 258h2v1h-2zM978 258h1v1h-1zM574 259h2v1h-2zM638 259h1v1h-1zM713 259h2v1h-2zM795 259h1v1h-1zM977 259h1v1h-1zM573 260h1v1h-1zM639 260h1v1h-1zM712 260h1v1h-1zM796 260h1v1h-1zM977 260h1v1h-1zM571 261h2v1h-2zM640 261h1v1h-1zM711 261h1v1h-1zM797 261h1v1h-1zM976 261h1v1h-1zM570 262h1v1h-1zM641 262h2v1h-2zM710 262h1v1h-1zM798 262h1v1h-1zM975 262h1v1h-1zM569 263h1v1h-1zM643 263h1v1h-1zM709 263h1v1h-1zM798 263h1v1h-1zM974 263h1v1h-1zM567 264h2v1h-2zM644 264h1v1h-1zM707 264h2v1h-2zM799 264h1v1h-1zM974 264h1v1h-1zM566 265h1v1h-1zM645 265h1v1h-1zM705 265h2v1h-2zM800 265h1v1h-1zM973 265h1v1h-1zM565 266h1v1h-1zM646 266h1v1h-1zM704 266h1v1h-1zM801 266h1v1h-1zM972 266h1v1h-1zM564 267h1v1h-1zM647 267h2v1h-2zM702 267h2v1h-2zM801 267h1v1h-1zM971 267h1v1h-1zM563 268h1v1h-1zM649 268h1v1h-1zM701 268h1v1h-1zM802 268h1v1h-1zM970 268h1v1h-1zM561 269h2v1h-2zM650 269h1v1h-1zM699 269h2v1h-2zM803 269h1v1h-1zM969 269h1v1h-1zM560 270h1v1h-1zM651 270h2v1h-2zM697 270h2v1h-2zM804 270h1v1h-1zM968 270h1v1h-1zM559 271h1v1h-1zM653 271h1v1h-1zM696 271h1v1h-1zM804 271h1v1h-1zM967 271h1v1h-1zM558 272h1v1h-1zM654 272h2v1h-2zM694 272h2v1h-2zM805 272h1v1h-1zM966 272h1v1h-1zM557 273h1v1h-1zM656 273h2v1h-2zM693 273h1v1h-1zM806 273h1v1h-1zM965 273h1v1h-1zM556 274h1v1h-1zM658 274h2v1h-2zM692 274h1v1h-1zM806 274h1v1h-1zM964 274h1v1h-1zM555 275h1v1h-1zM660 275h2v1h-2zM691 275h1v1h-1zM807 275h1v1h-1zM963 275h1v1h-1zM554 276h1v1h-1zM662 276h2v1h-2zM689 276h2v1h-2zM808 276h1v1h-1zM962 276h1v1h-1zM553 277h1v1h-1zM664 277h2v1h-2zM688 277h1v1h-1zM809 277h1v1h-1zM961 277h1v1h-1zM552 278h1v1h-1zM666 278h2v1h-2zM687 278h1v1h-1zM809 278h1v1h-1zM961 278h1v1h-1zM551 279h1v1h-1zM668 279h13v1h-13zM686 279h1v1h-1zM810 279h1v1h-1zM960 279h1v1h-1zM550 280h1v1h-1zM681 280h5v1h-5zM811 280h1v1h-1zM959 280h1v1h-1zM549 281h1v1h-1zM812 281h1v1h-1zM958 281h1v1h-1zM548 282h1v1h-1zM812 282h1v1h-1zM957 282h1v1h-1zM547 283h1v1h-1zM813 283h1v1h-1zM955 283h2v1h-2zM545 284h2v1h-2zM814 284h1v1h-1zM953 284h2v1h-2zM544 285h1v1h-1zM815 285h1v1h-1zM952 285h1v1h-1zM543 286h1v1h-1zM816 286h1v1h-1zM950 286h2v1h-2zM542 287h1v1h-1zM817 287h1v1h-1zM949 287h1v1h-1zM541 288h1v1h-1zM817 288h1v1h-1zM947 288h2v1h-2zM5 289h1v1h-1zM540 289h1v1h-1zM818 289h1v1h-1zM945 289h2v1h-2zM6 290h1v1h-1zM540 290h1v1h-1zM819 290h1v1h-1zM944 290h1v1h-1zM7 291h1v1h-1zM539 291h1v1h-1zM820 291h1v1h-1zM942 291h2v1h-2zM8 292h1v1h-1zM538 292h1v1h-1zM821 292h1v1h-1zM941 292h1v1h-1zM9 293h1v1h-1zM538 293h1v1h-1zM822 293h1v1h-1zM939 293h2v1h-2zM9 294h1v1h-1zM537 294h1v1h-1zM822 294h1v1h-1zM938 294h1v1h-1zM10 295h1v1h-1zM536 295h1v1h-1zM823 295h1v1h-1zM937 295h1v1h-1zM11 296h1v1h-1zM536 296h1v1h-1zM824 296h1v1h-1zM935 296h2v1h-2zM12 297h1v1h-1zM535 297h1v1h-1zM825 297h1v1h-1zM934 297h1v1h-1zM13 298h1v1h-1zM534 298h1v1h-1zM825 298h1v1h-1zM933 298h1v1h-1zM14 299h1v1h-1zM534 299h1v1h-1zM826 299h1v1h-1zM931 299h2v1h-2zM15 300h2v1h-2zM533 300h1v1h-1zM827 300h1v1h-1zM930 300h1v1h-1zM17 301h1v1h-1zM532 301h1v1h-1zM828 301h1v1h-1zM929 301h1v1h-1zM18 302h1v1h-1zM531 302h1v1h-1zM828 302h1v1h-1zM927 302h2v1h-2zM19 303h2v1h-2zM530 303h1v1h-1zM829 303h1v1h-1zM926 303h1v1h-1zM21 304h1v1h-1zM529 304h1v1h-1zM830 304h1v1h-1zM925 304h1v1h-1zM22 305h2v1h-2zM529 305h1v1h-1zM831 305h1v1h-1zM924 305h1v1h-1zM24 306h2v1h-2zM528 306h1v1h-1zM832 306h1v1h-1zM923 306h1v1h-1zM26 307h2v1h-2zM527 307h1v1h-1zM833 307h1v1h-1zM921 307h2v1h-2zM28 308h3v1h-3zM526 308h1v1h-1zM833 308h1v1h-1zM920 308h1v1h-1zM31 309h2v1h-2zM525 309h1v1h-1zM834 309h1v1h-1zM919 309h1v1h-1zM33 310h3v1h-3zM524 310h1v1h-1zM835 310h1v1h-1zM918 310h1v1h-1zM36 311h3v1h-3zM523 311h1v1h-1zM836 311h1v1h-1zM916 311h2v1h-2zM39 312h4v1h-4zM522 312h1v1h-1zM837 312h1v1h-1zM914 312h2v1h-2zM43 313h6v1h-6zM521 313h1v1h-1zM838 313h2v1h-2zM912 313h2v1h-2zM49 314h14v1h-14zM520 314h1v1h-1zM840 314h1v1h-1zM910 314h2v1h-2zM63 315h4v1h-4zM519 315h1v1h-1zM841 315h2v1h-2zM908 315h2v1h-2zM67 316h3v1h-3zM518 316h1v1h-1zM843 316h2v1h-2zM905 316h3v1h-3zM70 317h2v1h-2zM515 317h3v1h-3zM845 317h1v1h-1zM903 317h2v1h-2zM72 318h2v1h-2zM511 318h4v1h-4zM846 318h2v1h-2zM901 318h2v1h-2zM74 319h2v1h-2zM508 319h3v1h-3zM848 319h1v1h-1zM899 319h2v1h-2zM76 320h2v1h-2zM506 320h2v1h-2zM849 320h2v1h-2zM897 320h2v1h-2zM78 321h2v1h-2zM504 321h2v1h-2zM851 321h2v1h-2zM896 321h1v1h-1zM80 322h2v1h-2zM502 322h2v1h-2zM853 322h2v1h-2zM894 322h2v1h-2zM82 323h2v1h-2zM500 323h2v1h-2zM855 323h2v1h-2zM893 323h1v1h-1zM84 324h2v1h-2zM498 324h2v1h-2zM857 324h3v1h-3zM892 324h1v1h-1zM86 325h2v1h-2zM496 325h2v1h-2zM860 325h3v1h-3zM891 325h1v1h-1zM88 326h2v1h-2zM494 326h2v1h-2zM863 326h2v1h-2zM889 326h2v1h-2zM90 327h2v1h-2zM492 327h2v1h-2zM865 327h3v1h-3zM888 327h1v1h-1zM92 328h3v1h-3zM489 328h3v1h-3zM868 328h3v1h-3zM887 328h1v1h-1zM95 329h2v1h-2zM487 329h2v1h-2zM871 329h4v1h-4zM886 329h1v1h-1zM97 330h3v1h-3zM484 330h3v1h-3zM875 330h11v1h-11zM100 331h3v1h-3zM481 331h3v1h-3zM103 332h2v1h-2zM479 332h2v1h-2zM105 333h3v1h-3zM475 333h4v1h-4zM108 334h2v1h-2zM129 334h5v1h-5zM471 334h4v1h-4zM110 335h2v1h-2zM124 335h5v1h-5zM134 335h2v1h-2zM465 335h6v1h-6zM112 336h2v1h-2zM121 336h3v1h-3zM136 336h2v1h-2zM460 336h5v1h-5zM114 337h2v1h-2zM119 337h2v1h-2zM138 337h2v1h-2zM457 337h3v1h-3zM116 338h3v1h-3zM140 338h2v1h-2zM455 338h2v1h-2zM142 339h2v1h-2zM453 339h2v1h-2zM144 340h1v1h-1zM451 340h2v1h-2zM145 341h2v1h-2zM449 341h2v1h-2zM147 342h2v1h-2zM448 342h1v1h-1zM149 343h2v1h-2zM446 343h2v1h-2zM151 344h4v1h-4zM445 344h1v1h-1zM155 345h3v1h-3zM444 345h1v1h-1zM158 346h1v1h-1zM443 346h1v1h-1zM159 347h1v1h-1zM442 347h1v1h-1zM160 348h1v1h-1zM441 348h1v1h-1zM161 349h2v1h-2zM441 349h1v1h-1zM163 350h1v1h-1zM440 350h1v1h-1zM164 351h1v1h-1zM439 351h1v1h-1zM165 352h2v1h-2zM438 352h1v1h-1zM167 353h4v1h-4zM177 353h6v1h-6zM437 353h1v1h-1zM171 354h6v1h-6zM183 354h2v1h-2zM436 354h1v1h-1zM185 355h3v1h-3zM204 355h2v1h-2zM435 355h1v1h-1zM188 356h3v1h-3zM201 356h3v1h-3zM206 356h2v1h-2zM433 356h2v1h-2zM191 357h4v1h-4zM199 357h2v1h-2zM208 357h2v1h-2zM432 357h1v1h-1zM195 358h4v1h-4zM210 358h2v1h-2zM431 358h1v1h-1zM212 359h2v1h-2zM430 359h1v1h-1zM214 360h2v1h-2zM429 360h1v1h-1zM216 361h1v1h-1zM427 361h2v1h-2zM217 362h2v1h-2zM425 362h2v1h-2zM219 363h2v1h-2zM424 363h1v1h-1zM221 364h1v1h-1zM422 364h2v1h-2zM222 365h1v1h-1zM421 365h1v1h-1zM223 366h2v1h-2zM419 366h2v1h-2zM225 367h1v1h-1zM418 367h1v1h-1zM226 368h1v1h-1zM417 368h1v1h-1zM227 369h2v1h-2zM415 369h2v1h-2zM229 370h1v1h-1zM414 370h1v1h-1zM230 371h1v1h-1zM413 371h1v1h-1zM230 372h1v1h-1zM412 372h1v1h-1zM231 373h1v1h-1zM412 373h1v1h-1zM232 374h1v1h-1zM411 374h1v1h-1zM232 375h1v1h-1zM411 375h1v1h-1zM233 376h1v1h-1zM410 376h1v1h-1zM234 377h1v1h-1zM409 377h1v1h-1zM234 378h1v1h-1zM409 378h1v1h-1zM235 379h1v1h-1zM408 379h1v1h-1zM236 380h1v1h-1zM407 380h1v1h-1zM236 381h1v1h-1zM407 381h1v1h-1zM237 382h1v1h-1zM406 382h1v1h-1zM238 383h1v1h-1zM406 383h1v1h-1zM238 384h1v1h-1zM405 384h1v1h-1zM239 385h1v1h-1zM404 385h1v1h-1zM240 386h1v1h-1zM403 386h1v1h-1zM241 387h1v1h-1zM403 387h1v1h-1zM241 388h1v1h-1zM402 388h1v1h-1zM242 389h1v1h-1zM401 389h1v1h-1zM243 390h1v1h-1zM400 390h1v1h-1zM244 391h1v1h-1zM399 391h1v1h-1zM244 392h1v1h-1zM399 392h1v1h-1zM245 393h2v1h-2zM398 393h1v1h-1zM247 394h4v1h-4zM397 394h1v1h-1zM251 395h3v1h-3zM396 395h1v1h-1zM254 396h2v1h-2zM396 396h1v1h-1zM256 397h2v1h-2zM395 397h1v1h-1zM258 398h2v1h-2zM394 398h1v1h-1zM260 399h2v1h-2zM393 399h1v1h-1zM262 400h2v1h-2zM393 400h1v1h-1zM264 401h1v1h-1zM392 401h1v1h-1zM265 402h2v1h-2zM391 402h1v1h-1zM267 403h2v1h-2zM390 403h1v1h-1zM269 404h4v1h-4zM390 404h1v1h-1zM273 405h5v1h-5zM389 405h1v1h-1zM278 406h1v1h-1zM388 406h1v1h-1zM279 407h1v1h-1zM387 407h1v1h-1zM279 408h1v1h-1zM385 408h2v1h-2zM280 409h1v1h-1zM384 409h1v1h-1zM281 410h1v1h-1zM383 410h1v1h-1zM282 411h1v1h-1zM382 411h1v1h-1zM283 412h1v1h-1zM381 412h1v1h-1zM283 413h1v1h-1zM380 413h1v1h-1zM284 414h1v1h-1zM379 414h1v1h-1zM285 415h1v1h-1zM378 415h1v1h-1zM286 416h1v1h-1zM377 416h1v1h-1zM287 417h1v1h-1zM376 417h1v1h-1zM288 418h1v1h-1zM375 418h1v1h-1zM289 419h1v1h-1zM374 419h1v1h-1zM289 420h1v1h-1zM373 420h1v1h-1zM290 421h1v1h-1zM371 421h2v1h-2zM291 422h1v1h-1zM370 422h1v1h-1zM292 423h1v1h-1zM369 423h1v1h-1zM293 424h1v1h-1zM367 424h2v1h-2zM294 425h1v1h-1zM366 425h1v1h-1zM295 426h1v1h-1zM364 426h2v1h-2zM296 427h1v1h-1zM362 427h2v1h-2zM297 428h1v1h-1zM360 428h2v1h-2zM297 429h1v1h-1zM358 429h2v1h-2zM298 430h1v1h-1zM357 430h1v1h-1zM299 431h1v1h-1zM356 431h1v1h-1zM300 432h1v1h-1zM355 432h1v1h-1zM301 433h2v1h-2zM354 433h1v1h-1zM303 434h4v1h-4zM353 434h1v1h-1zM307 435h3v1h-3zM352 435h1v1h-1zM310 436h1v1h-1zM351 436h1v1h-1zM311 437h1v1h-1zM350 437h1v1h-1zM312 438h1v1h-1zM349 438h1v1h-1zM313 439h2v1h-2zM347 439h2v1h-2zM315 440h1v1h-1zM346 440h1v1h-1zM316 441h1v1h-1zM345 441h1v1h-1zM317 442h2v1h-2zM343 442h2v1h-2zM319 443h4v1h-4zM342 443h1v1h-1zM323 444h4v1h-4zM340 444h2v1h-2zM327 445h2v1h-2zM337 445h3v1h-3zM329 446h3v1h-3zM335 446h2v1h-2zM332 447h3v1h-3z" fill="#ff0000"/><path d="M1053 95h1v1h-1zM1051 96h2v1h-2zM1054 96h2v1h-2zM1050 97h1v1h-1zM1056 97h2v1h-2zM1049 98h1v1h-1zM1058 98h2v1h-2zM1047 99h2v1h-2zM1060 99h5v1h-5zM1046 100h1v1h-1zM1065 100h5v1h-5zM1045 101h1v1h-1zM1070 101h2v1h-2zM1044 102h1v1h-1zM1072 102h2v1h-2zM1043 103h1v1h-1zM1074 103h2v1h-2zM1117 103h1v1h-1zM1041 104h2v1h-2zM1076 104h3v1h-3zM1115 104h2v1h-2zM1040 105h1v1h-1zM1079 105h2v1h-2zM1113 105h2v1h-2zM1039 106h1v1h-1zM1081 106h3v1h-3zM1112 106h1v1h-1zM1038 107h1v1h-1zM1084 107h3v1h-3zM1110 107h2v1h-2zM1037 108h1v1h-1zM1087 108h2v1h-2zM1107 108h3v1h-3zM1035 109h2v1h-2zM1089 109h3v1h-3zM1103 109h4v1h-4zM1034 110h1v1h-1zM1092 110h11v1h-11zM1033 111h1v1h-1zM1031 112h2v1h-2zM1030 113h1v1h-1zM1029 114h1v1h-1zM1028 115h1v1h-1zM1028 116h1v1h-1zM1027 117h1v1h-1zM1026 118h1v1h-1zM1025 119h1v1h-1zM1025 120h1v1h-1zM1024 121h1v1h-1zM1023 122h1v1h-1zM1022 123h1v1h-1zM1022 124h1v1h-1zM1021 125h1v1h-1zM1021 126h1v1h-1zM1020 127h1v1h-1zM1020 128h1v1h-1zM1019 129h1v1h-1zM1019 130h1v1h-1zM1018 131h1v1h-1zM1018 132h1v1h-1zM1017 133h1v1h-1zM1017 134h1v1h-1zM1016 135h1v1h-1zM1016 136h1v1h-1zM1015 137h1v1h-1zM1015 138h1v1h-1zM1014 139h1v1h-1zM1014 140h1v1h-1zM1013 141h1v1h-1zM1013 142h1v1h-1zM1013 143h1v1h-1zM1012 144h1v1h-1zM1012 145h1v1h-1zM1012 146h1v1h-1zM1011 147h1v1h-1zM1011 148h1v1h-1zM1011 149h1v1h-1zM1010 150h1v1h-1zM1010 151h1v1h-1zM1010 152h1v1h-1zM1009 153h1v1h-1zM1009 154h1v1h-1zM1008 155h1v1h-1zM1008 156h1v1h-1zM1008 157h1v1h-1zM1007 158h1v1h-1zM1007 159h1v1h-1zM1007 160h1v1h-1zM1006 161h1v1h-1zM1006 162h1v1h-1zM1006 163h1v1h-1zM1005 164h1v1h-1zM1005 165h1v1h-1zM1005 166h1v1h-1zM1004 167h1v1h-1zM1004 168h1v1h-1zM1004 169h1v1h-1zM1003 170h1v1h-1zM1003 171h1v1h-1zM1003 172h1v1h-1zM1002 173h1v1h-1zM1002 174h1v1h-1zM1002 175h1v1h-1zM1001 176h1v1h-1zM1001 177h1v1h-1zM1001 178h1v1h-1zM1000 179h1v1h-1zM1000 180h1v1h-1zM1000 181h1v1h-1zM999 182h1v1h-1zM999 183h1v1h-1zM999 184h1v1h-1zM998 185h1v1h-1zM998 186h1v1h-1zM998 187h1v1h-1zM997 188h1v1h-1zM997 189h1v1h-1zM997 190h1v1h-1zM996 191h1v1h-1zM996 192h1v1h-1zM995 193h1v1h-1zM995 194h1v1h-1zM994 195h1v1h-1zM994 196h1v1h-1zM993 197h1v1h-1zM993 198h1v1h-1zM992 199h1v1h-1zM992 200h1v1h-1zM991 201h1v1h-1zM991 202h1v1h-1zM990 203h1v1h-1zM990 204h1v1h-1zM989 205h1v1h-1zM989 206h1v1h-1zM989 207h1v1h-1zM988 208h1v1h-1zM988 209h1v1h-1zM987 210h1v1h-1zM725 211h2v1h-2zM987 211h1v1h-1zM724 212h1v1h-1zM727 212h4v1h-4zM986 212h1v1h-1zM724 213h1v1h-1zM731 213h6v1h-6zM986 213h1v1h-1zM723 214h1v1h-1zM737 214h5v1h-5zM985 214h1v1h-1zM722 215h1v1h-1zM742 215h1v1h-1zM985 215h1v1h-1zM722 216h1v1h-1zM742 216h1v1h-1zM984 216h1v1h-1zM721 217h1v1h-1zM743 217h1v1h-1zM984 217h1v1h-1zM720 218h1v1h-1zM744 218h1v1h-1zM983 218h1v1h-1zM720 219h1v1h-1zM745 219h1v1h-1zM983 219h1v1h-1zM719 220h1v1h-1zM745 220h1v1h-1zM982 220h1v1h-1zM718 221h1v1h-1zM746 221h1v1h-1zM982 221h1v1h-1zM718 222h1v1h-1zM747 222h1v1h-1zM981 222h1v1h-1zM717 223h1v1h-1zM748 223h1v1h-1zM981 223h1v1h-1zM717 224h1v1h-1zM748 224h1v1h-1zM980 224h1v1h-1zM716 225h1v1h-1zM749 225h1v1h-1zM980 225h1v1h-1zM716 226h1v1h-1zM750 226h1v1h-1zM979 226h1v1h-1zM715 227h1v1h-1zM751 227h1v1h-1zM979 227h1v1h-1zM715 228h1v1h-1zM752 228h1v1h-1zM978 228h1v1h-1zM714 229h1v1h-1zM753 229h2v1h-2zM978 229h1v1h-1zM714 230h1v1h-1zM755 230h1v1h-1zM977 230h1v1h-1zM713 231h1v1h-1zM756 231h1v1h-1zM977 231h1v1h-1zM573 232h1v1h-1zM713 232h1v1h-1zM757 232h1v1h-1zM976 232h1v1h-1zM572 233h1v1h-1zM574 233h2v1h-2zM712 233h1v1h-1zM758 233h1v1h-1zM976 233h1v1h-1zM571 234h1v1h-1zM576 234h2v1h-2zM712 234h1v1h-1zM759 234h1v1h-1zM975 234h1v1h-1zM569 235h2v1h-2zM578 235h2v1h-2zM711 235h1v1h-1zM759 235h1v1h-1zM975 235h1v1h-1zM568 236h1v1h-1zM580 236h2v1h-2zM711 236h1v1h-1zM760 236h1v1h-1zM974 236h1v1h-1zM567 237h1v1h-1zM582 237h1v1h-1zM710 237h1v1h-1zM761 237h1v1h-1zM974 237h1v1h-1zM566 238h1v1h-1zM583 238h1v1h-1zM710 238h1v1h-1zM762 238h1v1h-1zM973 238h1v1h-1zM565 239h1v1h-1zM584 239h1v1h-1zM709 239h1v1h-1zM763 239h1v1h-1zM973 239h1v1h-1zM563 240h2v1h-2zM585 240h1v1h-1zM708 240h1v1h-1zM763 240h1v1h-1zM972 240h1v1h-1zM562 241h1v1h-1zM586 241h1v1h-1zM708 241h1v1h-1zM764 241h1v1h-1zM972 241h1v1h-1zM561 242h1v1h-1zM587 242h1v1h-1zM707 242h1v1h-1zM765 242h1v1h-1zM971 242h1v1h-1zM559 243h2v1h-2zM588 243h1v1h-1zM706 243h1v1h-1zM766 243h1v1h-1zM971 243h1v1h-1zM558 244h1v1h-1zM589 244h1v1h-1zM706 244h1v1h-1zM766 244h1v1h-1zM970 244h1v1h-1zM556 245h2v1h-2zM590 245h1v1h-1zM705 245h1v1h-1zM767 245h1v1h-1zM970 245h1v1h-1zM554 246h2v1h-2zM590 246h1v1h-1zM704 246h1v1h-1zM767 246h1v1h-1zM969 246h1v1h-1zM552 247h2v1h-2zM591 247h1v1h-1zM704 247h1v1h-1zM768 247h1v1h-1zM969 247h1v1h-1zM550 248h2v1h-2zM592 248h1v1h-1zM703 248h1v1h-1zM768 248h1v1h-1zM968 248h1v1h-1zM548 249h2v1h-2zM593 249h1v1h-1zM702 249h1v1h-1zM769 249h1v1h-1zM968 249h1v1h-1zM545 250h3v1h-3zM593 250h1v1h-1zM702 250h1v1h-1zM769 250h1v1h-1zM967 250h1v1h-1zM543 251h2v1h-2zM594 251h1v1h-1zM701 251h1v1h-1zM770 251h1v1h-1zM967 251h1v1h-1zM541 252h2v1h-2zM595 252h1v1h-1zM700 252h1v1h-1zM770 252h1v1h-1zM966 252h1v1h-1zM540 253h1v1h-1zM596 253h1v1h-1zM700 253h1v1h-1zM771 253h1v1h-1zM966 253h1v1h-1zM540 254h1v1h-1zM596 254h1v1h-1zM699 254h1v1h-1zM771 254h1v1h-1zM965 254h1v1h-1zM539 255h1v1h-1zM597 255h1v1h-1zM699 255h1v1h-1zM772 255h1v1h-1zM964 255h1v1h-1zM539 256h1v1h-1zM598 256h1v1h-1zM698 256h1v1h-1zM772 256h1v1h-1zM964 256h1v1h-1zM538 257h1v1h-1zM599 257h2v1h-2zM697 257h1v1h-1zM773 257h1v1h-1zM963 257h1v1h-1zM537 258h1v1h-1zM601 258h1v1h-1zM697 258h1v1h-1zM773 258h1v1h-1zM962 258h1v1h-1zM537 259h1v1h-1zM602 259h1v1h-1zM696 259h1v1h-1zM774 259h1v1h-1zM962 259h1v1h-1zM536 260h1v1h-1zM603 260h2v1h-2zM695 260h1v1h-1zM774 260h1v1h-1zM961 260h1v1h-1zM535 261h1v1h-1zM605 261h1v1h-1zM695 261h1v1h-1zM774 261h1v1h-1zM960 261h1v1h-1zM535 262h1v1h-1zM606 262h1v1h-1zM694 262h1v1h-1zM775 262h1v1h-1zM960 262h1v1h-1zM534 263h1v1h-1zM607 263h1v1h-1zM694 263h1v1h-1zM775 263h1v1h-1zM959 263h1v1h-1zM534 264h1v1h-1zM608 264h1v1h-1zM693 264h1v1h-1zM775 264h1v1h-1zM958 264h1v1h-1zM533 265h1v1h-1zM609 265h2v1h-2zM692 265h1v1h-1zM776 265h1v1h-1zM958 265h1v1h-1zM532 266h1v1h-1zM611 266h1v1h-1zM692 266h1v1h-1zM776 266h1v1h-1zM957 266h1v1h-1zM532 267h1v1h-1zM612 267h1v1h-1zM691 267h1v1h-1zM776 267h1v1h-1zM955 267h2v1h-2zM531 268h1v1h-1zM613 268h1v1h-1zM691 268h1v1h-1zM777 268h1v1h-1zM953 268h2v1h-2zM530 269h1v1h-1zM614 269h1v1h-1zM690 269h1v1h-1zM777 269h1v1h-1zM952 269h1v1h-1zM529 270h1v1h-1zM615 270h2v1h-2zM690 270h1v1h-1zM778 270h1v1h-1zM950 270h2v1h-2zM529 271h1v1h-1zM617 271h1v1h-1zM689 271h1v1h-1zM778 271h1v1h-1zM948 271h2v1h-2zM528 272h1v1h-1zM618 272h1v1h-1zM689 272h1v1h-1zM778 272h1v1h-1zM945 272h3v1h-3zM527 273h1v1h-1zM619 273h2v1h-2zM688 273h1v1h-1zM779 273h1v1h-1zM943 273h2v1h-2zM526 274h1v1h-1zM621 274h1v1h-1zM688 274h1v1h-1zM779 274h1v1h-1zM940 274h3v1h-3zM526 275h1v1h-1zM622 275h1v1h-1zM687 275h1v1h-1zM779 275h1v1h-1zM938 275h2v1h-2zM525 276h1v1h-1zM623 276h1v1h-1zM687 276h1v1h-1zM780 276h1v1h-1zM936 276h2v1h-2zM524 277h1v1h-1zM624 277h1v1h-1zM686 277h1v1h-1zM780 277h1v1h-1zM934 277h2v1h-2zM524 278h1v1h-1zM625 278h2v1h-2zM686 278h1v1h-1zM780 278h1v1h-1zM933 278h1v1h-1zM523 279h1v1h-1zM627 279h1v1h-1zM685 279h1v1h-1zM781 279h1v1h-1zM932 279h1v1h-1zM522 280h1v1h-1zM628 280h1v1h-1zM683 280h2v1h-2zM781 280h1v1h-1zM931 280h1v1h-1zM521 281h1v1h-1zM629 281h9v1h-9zM682 281h1v1h-1zM782 281h1v1h-1zM930 281h1v1h-1zM521 282h1v1h-1zM638 282h2v1h-2zM681 282h1v1h-1zM782 282h1v1h-1zM929 282h1v1h-1zM520 283h1v1h-1zM640 283h1v1h-1zM679 283h2v1h-2zM783 283h1v1h-1zM928 283h1v1h-1zM519 284h1v1h-1zM641 284h2v1h-2zM678 284h1v1h-1zM783 284h1v1h-1zM927 284h1v1h-1zM518 285h1v1h-1zM643 285h2v1h-2zM677 285h1v1h-1zM784 285h1v1h-1zM926 285h1v1h-1zM518 286h1v1h-1zM645 286h2v1h-2zM675 286h2v1h-2zM784 286h1v1h-1zM925 286h1v1h-1zM517 287h1v1h-1zM647 287h4v1h-4zM674 287h1v1h-1zM785 287h1v1h-1zM923 287h2v1h-2zM515 288h2v1h-2zM651 288h4v1h-4zM673 288h1v1h-1zM785 288h1v1h-1zM922 288h1v1h-1zM514 289h1v1h-1zM655 289h4v1h-4zM671 289h2v1h-2zM786 289h1v1h-1zM921 289h1v1h-1zM513 290h1v1h-1zM659 290h6v1h-6zM670 290h1v1h-1zM786 290h1v1h-1zM919 290h2v1h-2zM511 291h2v1h-2zM665 291h5v1h-5zM787 291h1v1h-1zM918 291h1v1h-1zM510 292h1v1h-1zM787 292h1v1h-1zM909 292h9v1h-9zM509 293h1v1h-1zM788 293h1v1h-1zM907 293h2v1h-2zM508 294h1v1h-1zM788 294h1v1h-1zM906 294h1v1h-1zM507 295h1v1h-1zM789 295h1v1h-1zM905 295h1v1h-1zM506 296h1v1h-1zM790 296h1v1h-1zM903 296h2v1h-2zM505 297h1v1h-1zM790 297h1v1h-1zM902 297h1v1h-1zM504 298h1v1h-1zM791 298h1v1h-1zM901 298h1v1h-1zM503 299h1v1h-1zM791 299h1v1h-1zM899 299h2v1h-2zM502 300h1v1h-1zM792 300h1v1h-1zM897 300h2v1h-2zM501 301h1v1h-1zM793 301h1v1h-1zM896 301h1v1h-1zM500 302h1v1h-1zM793 302h1v1h-1zM894 302h2v1h-2zM500 303h1v1h-1zM794 303h1v1h-1zM893 303h1v1h-1zM499 304h1v1h-1zM795 304h1v1h-1zM892 304h1v1h-1zM498 305h1v1h-1zM795 305h1v1h-1zM891 305h1v1h-1zM498 306h1v1h-1zM796 306h1v1h-1zM889 306h2v1h-2zM497 307h1v1h-1zM796 307h1v1h-1zM888 307h1v1h-1zM496 308h1v1h-1zM797 308h1v1h-1zM887 308h1v1h-1zM41 309h14v1h-14zM496 309h1v1h-1zM798 309h1v1h-1zM886 309h1v1h-1zM36 310h5v1h-5zM55 310h4v1h-4zM495 310h1v1h-1zM798 310h1v1h-1zM885 310h1v1h-1zM33 311h3v1h-3zM59 311h6v1h-6zM494 311h1v1h-1zM799 311h1v1h-1zM884 311h1v1h-1zM31 312h2v1h-2zM65 312h5v1h-5zM494 312h1v1h-1zM800 312h1v1h-1zM883 312h1v1h-1zM29 313h2v1h-2zM70 313h1v1h-1zM493 313h1v1h-1zM801 313h1v1h-1zM881 313h2v1h-2zM27 314h2v1h-2zM71 314h1v1h-1zM492 314h1v1h-1zM801 314h1v1h-1zM880 314h1v1h-1zM26 315h1v1h-1zM72 315h1v1h-1zM491 315h1v1h-1zM802 315h1v1h-1zM879 315h1v1h-1zM25 316h1v1h-1zM73 316h1v1h-1zM491 316h1v1h-1zM803 316h1v1h-1zM878 316h1v1h-1zM5 317h2v1h-2zM23 317h2v1h-2zM73 317h1v1h-1zM490 317h1v1h-1zM804 317h1v1h-1zM877 317h1v1h-1zM7 318h2v1h-2zM22 318h1v1h-1zM74 318h1v1h-1zM489 318h1v1h-1zM804 318h1v1h-1zM875 318h2v1h-2zM9 319h3v1h-3zM17 319h5v1h-5zM75 319h1v1h-1zM488 319h1v1h-1zM805 319h1v1h-1zM873 319h2v1h-2zM12 320h5v1h-5zM76 320h1v1h-1zM487 320h1v1h-1zM806 320h1v1h-1zM872 320h1v1h-1zM77 321h1v1h-1zM487 321h1v1h-1zM806 321h1v1h-1zM870 321h2v1h-2zM78 322h1v1h-1zM486 322h1v1h-1zM807 322h1v1h-1zM869 322h1v1h-1zM78 323h1v1h-1zM485 323h1v1h-1zM807 323h1v1h-1zM868 323h1v1h-1zM79 324h1v1h-1zM484 324h1v1h-1zM808 324h1v1h-1zM867 324h1v1h-1zM79 325h1v1h-1zM484 325h1v1h-1zM808 325h1v1h-1zM866 325h1v1h-1zM80 326h1v1h-1zM405 326h4v1h-4zM483 326h1v1h-1zM809 326h1v1h-1zM865 326h1v1h-1zM80 327h1v1h-1zM404 327h1v1h-1zM409 327h5v1h-5zM482 327h1v1h-1zM810 327h1v1h-1zM864 327h1v1h-1zM81 328h1v1h-1zM403 328h1v1h-1zM414 328h2v1h-2zM482 328h1v1h-1zM810 328h1v1h-1zM863 328h1v1h-1zM82 329h1v1h-1zM401 329h2v1h-2zM416 329h2v1h-2zM481 329h1v1h-1zM811 329h1v1h-1zM862 329h1v1h-1zM82 330h1v1h-1zM400 330h1v1h-1zM418 330h2v1h-2zM480 330h1v1h-1zM811 330h1v1h-1zM861 330h1v1h-1zM83 331h1v1h-1zM399 331h1v1h-1zM420 331h2v1h-2zM480 331h1v1h-1zM812 331h1v1h-1zM860 331h1v1h-1zM83 332h1v1h-1zM398 332h1v1h-1zM422 332h2v1h-2zM479 332h1v1h-1zM812 332h1v1h-1zM859 332h1v1h-1zM84 333h1v1h-1zM397 333h1v1h-1zM424 333h1v1h-1zM478 333h1v1h-1zM813 333h1v1h-1zM857 333h2v1h-2zM84 334h1v1h-1zM396 334h1v1h-1zM425 334h2v1h-2zM478 334h1v1h-1zM814 334h1v1h-1zM856 334h1v1h-1zM85 335h1v1h-1zM395 335h1v1h-1zM427 335h2v1h-2zM477 335h1v1h-1zM815 335h1v1h-1zM855 335h1v1h-1zM86 336h1v1h-1zM395 336h1v1h-1zM429 336h1v1h-1zM476 336h1v1h-1zM815 336h1v1h-1zM854 336h1v1h-1zM86 337h1v1h-1zM153 337h5v1h-5zM394 337h1v1h-1zM430 337h2v1h-2zM475 337h1v1h-1zM816 337h1v1h-1zM849 337h5v1h-5zM87 338h1v1h-1zM148 338h5v1h-5zM158 338h1v1h-1zM393 338h1v1h-1zM432 338h2v1h-2zM473 338h2v1h-2zM817 338h1v1h-1zM845 338h4v1h-4zM88 339h1v1h-1zM146 339h2v1h-2zM159 339h1v1h-1zM392 339h1v1h-1zM434 339h2v1h-2zM472 339h1v1h-1zM818 339h1v1h-1zM843 339h2v1h-2zM88 340h1v1h-1zM144 340h2v1h-2zM160 340h1v1h-1zM391 340h1v1h-1zM436 340h2v1h-2zM471 340h1v1h-1zM819 340h1v1h-1zM842 340h1v1h-1zM89 341h1v1h-1zM142 341h2v1h-2zM161 341h1v1h-1zM391 341h1v1h-1zM438 341h2v1h-2zM470 341h1v1h-1zM819 341h1v1h-1zM841 341h1v1h-1zM90 342h1v1h-1zM140 342h2v1h-2zM162 342h1v1h-1zM390 342h1v1h-1zM440 342h2v1h-2zM468 342h2v1h-2zM820 342h1v1h-1zM839 342h2v1h-2zM90 343h1v1h-1zM138 343h2v1h-2zM163 343h1v1h-1zM389 343h1v1h-1zM442 343h2v1h-2zM466 343h2v1h-2zM821 343h1v1h-1zM838 343h1v1h-1zM91 344h1v1h-1zM136 344h2v1h-2zM164 344h1v1h-1zM169 344h5v1h-5zM389 344h1v1h-1zM444 344h5v1h-5zM464 344h2v1h-2zM822 344h1v1h-1zM837 344h1v1h-1zM92 345h1v1h-1zM134 345h2v1h-2zM165 345h4v1h-4zM174 345h2v1h-2zM388 345h1v1h-1zM449 345h8v1h-8zM462 345h2v1h-2zM823 345h2v1h-2zM835 345h2v1h-2zM92 346h1v1h-1zM133 346h1v1h-1zM176 346h1v1h-1zM388 346h1v1h-1zM457 346h5v1h-5zM825 346h1v1h-1zM833 346h2v1h-2zM93 347h1v1h-1zM132 347h1v1h-1zM177 347h2v1h-2zM388 347h1v1h-1zM826 347h1v1h-1zM832 347h1v1h-1zM94 348h1v1h-1zM132 348h1v1h-1zM179 348h2v1h-2zM387 348h1v1h-1zM827 348h2v1h-2zM830 348h2v1h-2zM95 349h2v1h-2zM131 349h1v1h-1zM181 349h1v1h-1zM387 349h1v1h-1zM829 349h1v1h-1zM97 350h1v1h-1zM130 350h1v1h-1zM182 350h1v1h-1zM386 350h1v1h-1zM98 351h1v1h-1zM130 351h1v1h-1zM182 351h1v1h-1zM386 351h1v1h-1zM99 352h2v1h-2zM129 352h1v1h-1zM183 352h1v1h-1zM386 352h1v1h-1zM101 353h1v1h-1zM128 353h1v1h-1zM183 353h1v1h-1zM385 353h1v1h-1zM102 354h1v1h-1zM128 354h1v1h-1zM184 354h1v1h-1zM385 354h1v1h-1zM103 355h1v1h-1zM127 355h1v1h-1zM184 355h1v1h-1zM385 355h1v1h-1zM104 356h1v1h-1zM126 356h1v1h-1zM185 356h1v1h-1zM384 356h1v1h-1zM105 357h2v1h-2zM126 357h1v1h-1zM185 357h1v1h-1zM384 357h1v1h-1zM107 358h1v1h-1zM125 358h1v1h-1zM186 358h1v1h-1zM384 358h1v1h-1zM108 359h1v1h-1zM123 359h2v1h-2zM186 359h1v1h-1zM383 359h1v1h-1zM109 360h1v1h-1zM122 360h1v1h-1zM187 360h1v1h-1zM383 360h1v1h-1zM110 361h2v1h-2zM121 361h1v1h-1zM187 361h1v1h-1zM382 361h1v1h-1zM112 362h2v1h-2zM119 362h2v1h-2zM188 362h1v1h-1zM382 362h1v1h-1zM114 363h2v1h-2zM118 363h1v1h-1zM188 363h1v1h-1zM382 363h1v1h-1zM116 364h2v1h-2zM189 364h1v1h-1zM381 364h1v1h-1zM189 365h1v1h-1zM381 365h1v1h-1zM190 366h1v1h-1zM381 366h1v1h-1zM191 367h1v1h-1zM380 367h1v1h-1zM192 368h1v1h-1zM380 368h1v1h-1zM193 369h1v1h-1zM379 369h1v1h-1zM193 370h1v1h-1zM379 370h1v1h-1zM194 371h1v1h-1zM204 371h2v1h-2zM378 371h1v1h-1zM195 372h1v1h-1zM201 372h3v1h-3zM206 372h1v1h-1zM378 372h1v1h-1zM196 373h1v1h-1zM199 373h2v1h-2zM207 373h1v1h-1zM378 373h1v1h-1zM197 374h2v1h-2zM208 374h1v1h-1zM377 374h1v1h-1zM209 375h1v1h-1zM377 375h1v1h-1zM209 376h1v1h-1zM376 376h1v1h-1zM210 377h1v1h-1zM376 377h1v1h-1zM211 378h1v1h-1zM376 378h1v1h-1zM212 379h1v1h-1zM375 379h1v1h-1zM213 380h2v1h-2zM375 380h1v1h-1zM215 381h4v1h-4zM374 381h1v1h-1zM219 382h3v1h-3zM374 382h1v1h-1zM222 383h1v1h-1zM373 383h1v1h-1zM222 384h1v1h-1zM373 384h1v1h-1zM223 385h1v1h-1zM372 385h1v1h-1zM223 386h1v1h-1zM372 386h1v1h-1zM224 387h1v1h-1zM371 387h1v1h-1zM224 388h1v1h-1zM371 388h1v1h-1zM225 389h1v1h-1zM370 389h1v1h-1zM225 390h1v1h-1zM370 390h1v1h-1zM226 391h1v1h-1zM369 391h1v1h-1zM226 392h1v1h-1zM369 392h1v1h-1zM227 393h1v1h-1zM368 393h1v1h-1zM227 394h1v1h-1zM368 394h1v1h-1zM228 395h1v1h-1zM367 395h1v1h-1zM228 396h1v1h-1zM367 396h1v1h-1zM229 397h1v1h-1zM366 397h1v1h-1zM229 398h1v1h-1zM366 398h1v1h-1zM230 399h1v1h-1zM365 399h1v1h-1zM230 400h1v1h-1zM364 400h1v1h-1zM231 401h1v1h-1zM364 401h1v1h-1zM231 402h1v1h-1zM363 402h1v1h-1zM232 403h1v1h-1zM363 403h1v1h-1zM232 404h1v1h-1zM362 404h1v1h-1zM233 405h1v1h-1zM362 405h1v1h-1zM233 406h1v1h-1zM361 406h1v1h-1zM233 407h1v1h-1zM361 407h1v1h-1zM234 408h1v1h-1zM360 408h1v1h-1zM234 409h1v1h-1zM360 409h1v1h-1zM235 410h1v1h-1zM359 410h1v1h-1zM235 411h1v1h-1zM359 411h1v1h-1zM236 412h1v1h-1zM358 412h1v1h-1zM236 413h1v1h-1zM358 413h1v1h-1zM237 414h1v1h-1zM357 414h1v1h-1zM237 415h1v1h-1zM357 415h1v1h-1zM238 416h2v1h-2zM356 416h1v1h-1zM240 417h1v1h-1zM252 417h2v1h-2zM356 417h1v1h-1zM241 418h2v1h-2zM249 418h3v1h-3zM254 418h1v1h-1zM356 418h1v1h-1zM243 419h2v1h-2zM247 419h2v1h-2zM255 419h1v1h-1zM356 419h1v1h-1zM245 420h2v1h-2zM256 420h1v1h-1zM355 420h1v1h-1zM257 421h1v1h-1zM355 421h1v1h-1zM257 422h1v1h-1zM355 422h1v1h-1zM258 423h1v1h-1zM354 423h1v1h-1zM259 424h1v1h-1zM354 424h1v1h-1zM260 425h1v1h-1zM354 425h1v1h-1zM261 426h4v1h-4zM354 426h1v1h-1zM265 427h13v1h-13zM353 427h1v1h-1zM278 428h1v1h-1zM353 428h1v1h-1zM279 429h2v1h-2zM353 429h1v1h-1zM281 430h1v1h-1zM352 430h1v1h-1zM282 431h1v1h-1zM352 431h1v1h-1zM283 432h2v1h-2zM352 432h1v1h-1zM285 433h4v1h-4zM352 433h1v1h-1zM289 434h5v1h-5zM351 434h1v1h-1zM294 435h1v1h-1zM351 435h1v1h-1zM294 436h1v1h-1zM351 436h1v1h-1zM295 437h1v1h-1zM350 437h1v1h-1zM296 438h1v1h-1zM350 438h1v1h-1zM296 439h1v1h-1zM350 439h1v1h-1zM297 440h1v1h-1zM350 440h1v1h-1zM298 441h1v1h-1zM349 441h1v1h-1zM298 442h1v1h-1zM349 442h1v1h-1zM299 443h1v1h-1zM348 443h1v1h-1zM300 444h1v1h-1zM348 444h1v1h-1zM300 445h1v1h-1zM347 445h1v1h-1zM301 446h1v1h-1zM347 446h1v1h-1zM302 447h1v1h-1zM346 447h1v1h-1zM303 448h1v1h-1zM345 448h1v1h-1zM304 449h1v1h-1zM345 449h1v1h-1zM305 450h2v1h-2zM344 450h1v1h-1zM307 451h1v1h-1zM343 451h1v1h-1zM308 452h1v1h-1zM343 452h1v1h-1zM309 453h1v1h-1zM342 453h1v1h-1zM310 454h2v1h-2zM342 454h1v1h-1zM312 455h2v1h-2zM341 455h1v1h-1zM314 456h2v1h-2zM340 456h1v1h-1zM316 457h3v1h-3zM340 457h1v1h-1zM319 458h2v1h-2zM339 458h1v1h-1zM321 459h3v1h-3zM338 459h1v1h-1zM324 460h2v1h-2zM337 460h1v1h-1zM326 461h1v1h-1zM337 461h1v1h-1zM327 462h2v1h-2zM336 462h1v1h-1zM329 463h1v1h-1zM335 463h1v1h-1zM330 464h1v1h-1zM334 464h1v1h-1zM331 465h2v1h-2zM334 465h1v1h-1zM333 466h1v1h-1z" fill="#0000cd"/><rect x="925" y="135" width="266" height="5" fill="#99cc00"/><rect x="919" y="205" width="273" height="5" fill="#3a90dc"/></g><polygon points="1131,30 1141,30 1136,35" fill="#b4b4b4" shape-rendering="crispEdges"/><rect x="1422" y="81" width="41" height="11" fill="#000"/><clipPath id="cd"><rect x="5" y="572" width="1415" height="103"/></clipPath><g clip-path="url(#cd)"><path d="M5 632h1v3h-1zM13 632h1v7h-1zM21 632h1v7h-1zM29 632h1v5h-1zM37 632h1v4h-1zM45 632h1v4h-1zM53 632h1v4h-1zM61 632h1v4h-1zM69 632h1v8h-1zM77 632h1v13h-1zM85 632h1v17h-1zM93 632h1v20h-1zM101 632h1v19h-1zM109 632h1v19h-1zM117 632h1v17h-1zM125 632h1v13h-1zM133 632h1v9h-1zM141 632h1v10h-1zM149 632h1v11h-1zM157 632h1v11h-1zM165 632h1v16h-1zM173 632h1v13h-1zM181 632h1v12h-1zM189 632h1v17h-1zM197 632h1v20h-1zM205 632h1v16h-1zM213 632h1v19h-1zM221 632h1v22h-1zM229 632h1v25h-1zM237 632h1v30h-1zM245 632h1v33h-1zM253 632h1v29h-1zM261 632h1v27h-1zM269 632h1v25h-1zM277 632h1v25h-1zM285 632h1v29h-1zM293 632h1v31h-1zM301 632h1v38h-1zM309 632h1v34h-1zM317 632h1v31h-1zM325 632h1v28h-1zM333 632h1v28h-1zM341 632h1v23h-1zM349 632h1v16h-1zM357 632h1v8h-1zM373 626h1v7h-1zM381 620h1v13h-1zM389 615h1v18h-1zM397 614h1v19h-1zM405 612h1v21h-1zM413 613h1v20h-1zM421 615h1v18h-1zM429 617h1v16h-1zM437 616h1v17h-1zM445 616h1v17h-1zM453 616h1v17h-1zM461 616h1v17h-1zM469 615h1v18h-1zM477 613h1v20h-1zM485 610h1v23h-1zM493 606h1v27h-1zM501 603h1v30h-1zM509 604h1v29h-1zM517 604h1v29h-1zM525 602h1v31h-1zM533 598h1v35h-1zM541 594h1v39h-1zM549 594h1v39h-1zM557 594h1v39h-1zM565 595h1v38h-1zM573 597h1v36h-1zM581 601h1v32h-1zM589 605h1v28h-1zM597 608h1v25h-1zM605 611h1v22h-1zM613 615h1v18h-1zM621 617h1v16h-1zM629 619h1v14h-1zM637 621h1v12h-1zM645 625h1v8h-1zM653 626h1v7h-1zM661 628h1v5h-1zM669 629h1v4h-1zM677 625h1v8h-1zM685 623h1v10h-1zM693 616h1v17h-1zM701 614h1v19h-1zM709 611h1v22h-1zM717 608h1v25h-1zM725 608h1v25h-1zM733 611h1v22h-1zM741 614h1v19h-1zM749 617h1v16h-1zM757 620h1v13h-1zM765 623h1v10h-1zM773 628h1v5h-1zM781 632h1v6h-1zM789 632h1v12h-1zM797 632h1v16h-1zM805 632h1v18h-1zM813 632h1v22h-1zM821 632h1v23h-1zM829 632h1v23h-1zM837 632h1v22h-1zM845 632h1v21h-1zM853 632h1v20h-1zM861 632h1v16h-1zM869 632h1v14h-1zM877 632h1v12h-1zM885 632h1v9h-1zM893 632h1v6h-1zM901 632h1v4h-1zM909 632h1v3h-1zM917 632h1v1h-1zM925 630h1v3h-1zM933 628h1v5h-1zM941 626h1v7h-1zM949 624h1v9h-1zM957 622h1v11h-1zM965 618h1v15h-1zM973 612h1v21h-1zM981 604h1v29h-1zM989 599h1v34h-1zM997 595h1v38h-1zM1005 588h1v45h-1zM1013 583h1v50h-1zM1021 580h1v53h-1zM1029 579h1v54h-1zM1037 578h1v55h-1zM1045 578h1v55h-1zM1053 579h1v54h-1zM1061 582h1v51h-1zM1069 583h1v50h-1zM1077 586h1v47h-1zM1085 590h1v43h-1zM1093 592h1v41h-1zM1101 593h1v40h-1zM1109 594h1v39h-1zM1117 594h1v39h-1z" fill="#c0c0c0"/><path d="M5 628h1v1h-1zM6 628h1v1h-1zM7 629h1v1h-1zM11 630h1v1h-1zM12 630h1v1h-1zM13 630h1v1h-1zM17 632h1v1h-1zM18 632h1v1h-1zM19 632h1v1h-1zM23 634h1v1h-1zM24 634h1v1h-1zM25 634h1v1h-1zM29 635h1v1h-1zM30 635h1v1h-1zM31 635h1v1h-1zM35 636h1v1h-1zM36 636h1v1h-1zM37 636h1v1h-1zM41 637h1v1h-1zM42 637h1v1h-1zM43 637h1v1h-1zM47 637h1v1h-1zM48 637h1v1h-1zM49 637h1v1h-1zM53 637h1v1h-1zM54 637h1v1h-1zM55 637h1v1h-1zM59 637h1v1h-1zM60 637h1v1h-1zM61 637h1v1h-1zM65 637h1v1h-1zM66 637h1v1h-1zM67 637h1v1h-1zM71 637h1v1h-1zM72 637h1v1h-1zM73 638h1v1h-1zM77 638h1v1h-1zM78 638h1v1h-1zM79 638h1v1h-1zM83 639h1v1h-1zM84 639h1v1h-1zM85 639h1v1h-1zM89 640h1v1h-1zM90 640h1v1h-1zM91 641h1v1h-1zM95 641h1v1h-1zM96 641h1v1h-1zM97 642h1v1h-1zM101 642h1v1h-1zM102 642h1v1h-1zM103 643h1v1h-1zM107 644h1v1h-1zM108 644h1v1h-1zM109 644h1v1h-1zM113 645h1v1h-1zM114 645h1v1h-1zM115 645h1v1h-1zM119 645h1v1h-1zM120 645h1v1h-1zM121 646h1v1h-1zM125 646h1v1h-1zM126 646h1v1h-1zM127 646h1v1h-1zM131 647h1v1h-1zM132 647h1v1h-1zM133 647h1v1h-1zM137 647h1v1h-1zM138 647h1v1h-1zM139 647h1v1h-1zM143 647h1v1h-1zM144 647h1v1h-1zM145 647h1v1h-1zM149 647h1v1h-1zM150 647h1v1h-1zM151 647h1v1h-1zM155 646h1v1h-1zM156 646h1v1h-1zM157 646h1v1h-1zM161 646h1v1h-1zM162 646h1v1h-1zM163 646h1v1h-1zM167 646h1v1h-1zM168 646h1v1h-1zM169 645h1v1h-1zM173 645h1v1h-1zM174 645h1v1h-1zM175 645h1v1h-1zM179 645h1v1h-1zM180 645h1v1h-1zM181 645h1v1h-1zM185 644h1v1h-1zM186 644h1v1h-1zM187 644h1v1h-1zM191 644h1v1h-1zM192 644h1v1h-1zM193 645h1v1h-1zM197 645h1v1h-1zM198 645h1v1h-1zM199 645h1v1h-1zM203 646h1v1h-1zM204 646h1v1h-1zM205 646h1v1h-1zM209 647h1v1h-1zM210 647h1v1h-1zM211 647h1v1h-1zM215 647h1v1h-1zM216 647h1v1h-1zM217 648h1v1h-1zM221 648h1v1h-1zM222 648h1v1h-1zM223 649h1v1h-1zM227 650h1v1h-1zM228 650h1v1h-1zM229 650h1v1h-1zM233 651h1v1h-1zM234 651h1v1h-1zM235 651h1v1h-1zM239 652h1v1h-1zM240 652h1v1h-1zM241 653h1v1h-1zM245 654h1v1h-1zM246 654h1v1h-1zM247 654h1v1h-1zM251 655h1v1h-1zM252 655h1v1h-1zM253 655h1v1h-1zM257 656h1v1h-1zM258 656h1v1h-1zM259 657h1v1h-1zM263 657h1v1h-1zM264 657h1v1h-1zM265 657h1v1h-1zM269 657h1v1h-1zM270 657h1v1h-1zM271 657h1v1h-1zM275 658h1v1h-1zM276 658h1v1h-1zM277 658h1v1h-1zM281 659h1v1h-1zM282 659h1v1h-1zM283 659h1v1h-1zM287 659h1v1h-1zM288 659h1v1h-1zM289 660h1v1h-1zM293 660h1v1h-1zM294 660h1v1h-1zM295 661h1v1h-1zM299 662h1v1h-1zM300 662h1v1h-1zM301 662h1v1h-1zM305 662h1v1h-1zM306 662h1v1h-1zM307 662h1v1h-1zM311 662h1v1h-1zM312 662h1v1h-1zM313 662h1v1h-1zM317 662h1v1h-1zM318 662h1v1h-1zM319 662h1v1h-1zM323 662h1v1h-1zM324 662h1v1h-1zM325 662h1v1h-1zM329 662h1v1h-1zM330 662h1v1h-1zM331 662h1v1h-1zM335 662h1v1h-1zM336 662h1v1h-1zM337 662h1v1h-1zM341 662h1v1h-1zM342 662h1v1h-1zM343 662h1v1h-1zM347 661h1v1h-1zM348 661h1v1h-1zM349 661h1v1h-1zM353 660h1v1h-1zM354 660h1v1h-1zM355 659h1v1h-1zM359 658h1v1h-1zM360 657h1v1h-1zM361 657h1v1h-1zM365 655h1v1h-1zM366 654h1v1h-1zM367 654h1v1h-1zM371 651h1v1h-1zM372 651h1v1h-1zM373 650h1v1h-1zM377 647h1v1h-1zM378 647h1v1h-1zM379 646h1v1h-1zM383 644h1v1h-1zM384 643h1v1h-1zM385 642h1v1h-1zM389 640h1v1h-1zM390 639h1v1h-1zM391 639h1v1h-1zM395 636h1v1h-1zM396 636h1v1h-1zM397 635h1v1h-1zM401 632h1v1h-1zM402 631h1v1h-1zM403 630h1v1h-1zM407 628h1v1h-1zM408 627h1v1h-1zM409 627h1v1h-1zM413 625h1v1h-1zM414 624h1v1h-1zM415 624h1v1h-1zM419 622h1v1h-1zM420 621h1v1h-1zM421 621h1v1h-1zM425 619h1v1h-1zM426 619h1v1h-1zM427 619h1v1h-1zM431 617h1v1h-1zM432 617h1v1h-1zM433 617h1v1h-1zM437 616h1v1h-1zM438 616h1v1h-1zM439 616h1v1h-1zM443 615h1v1h-1zM444 615h1v1h-1zM445 615h1v1h-1zM449 615h1v1h-1zM450 615h1v1h-1zM451 615h1v1h-1zM455 615h1v1h-1zM456 615h1v1h-1zM457 615h1v1h-1zM461 615h1v1h-1zM462 615h1v1h-1zM463 615h1v1h-1zM467 615h1v1h-1zM468 615h1v1h-1zM469 615h1v1h-1zM473 615h1v1h-1zM474 615h1v1h-1zM475 615h1v1h-1zM479 615h1v1h-1zM480 615h1v1h-1zM481 615h1v1h-1zM485 615h1v1h-1zM486 615h1v1h-1zM487 615h1v1h-1zM491 614h1v1h-1zM492 614h1v1h-1zM493 614h1v1h-1zM497 613h1v1h-1zM498 613h1v1h-1zM499 613h1v1h-1zM503 612h1v1h-1zM504 612h1v1h-1zM505 612h1v1h-1zM509 611h1v1h-1zM510 611h1v1h-1zM511 611h1v1h-1zM515 610h1v1h-1zM516 610h1v1h-1zM517 610h1v1h-1zM521 609h1v1h-1zM522 609h1v1h-1zM523 608h1v1h-1zM527 607h1v1h-1zM528 607h1v1h-1zM529 607h1v1h-1zM533 606h1v1h-1zM534 606h1v1h-1zM535 605h1v1h-1zM539 604h1v1h-1zM540 604h1v1h-1zM541 604h1v1h-1zM545 603h1v1h-1zM546 603h1v1h-1zM547 602h1v1h-1zM551 601h1v1h-1zM552 601h1v1h-1zM553 601h1v1h-1zM557 600h1v1h-1zM558 600h1v1h-1zM559 600h1v1h-1zM563 599h1v1h-1zM564 599h1v1h-1zM565 599h1v1h-1zM569 598h1v1h-1zM570 598h1v1h-1zM571 598h1v1h-1zM575 598h1v1h-1zM576 598h1v1h-1zM577 598h1v1h-1zM581 598h1v1h-1zM582 598h1v1h-1zM583 598h1v1h-1zM587 598h1v1h-1zM588 598h1v1h-1zM589 598h1v1h-1zM593 598h1v1h-1zM594 598h1v1h-1zM595 598h1v1h-1zM599 599h1v1h-1zM600 599h1v1h-1zM601 599h1v1h-1zM605 600h1v1h-1zM606 600h1v1h-1zM607 601h1v1h-1zM611 602h1v1h-1zM612 602h1v1h-1zM613 602h1v1h-1zM617 604h1v1h-1zM618 604h1v1h-1zM619 604h1v1h-1zM623 606h1v1h-1zM624 606h1v1h-1zM625 606h1v1h-1zM629 607h1v1h-1zM630 607h1v1h-1zM631 608h1v1h-1zM635 609h1v1h-1zM636 610h1v1h-1zM637 610h1v1h-1zM641 612h1v1h-1zM642 612h1v1h-1zM643 612h1v1h-1zM647 614h1v1h-1zM648 614h1v1h-1zM649 615h1v1h-1zM653 616h1v1h-1zM654 616h1v1h-1zM655 617h1v1h-1zM659 618h1v1h-1zM660 619h1v1h-1zM661 619h1v1h-1zM665 620h1v1h-1zM666 620h1v1h-1zM667 621h1v1h-1zM671 622h1v1h-1zM672 622h1v1h-1zM673 622h1v1h-1zM677 623h1v1h-1zM678 623h1v1h-1zM679 623h1v1h-1zM683 624h1v1h-1zM684 624h1v1h-1zM685 624h1v1h-1zM689 623h1v1h-1zM690 623h1v1h-1zM691 623h1v1h-1zM695 623h1v1h-1zM696 623h1v1h-1zM697 623h1v1h-1zM701 623h1v1h-1zM702 623h1v1h-1zM703 623h1v1h-1zM707 622h1v1h-1zM708 622h1v1h-1zM709 622h1v1h-1zM713 621h1v1h-1zM714 621h1v1h-1zM715 620h1v1h-1zM719 619h1v1h-1zM720 619h1v1h-1zM721 619h1v1h-1zM725 618h1v1h-1zM726 618h1v1h-1zM727 617h1v1h-1zM731 616h1v1h-1zM732 616h1v1h-1zM733 616h1v1h-1zM737 615h1v1h-1zM738 615h1v1h-1zM739 614h1v1h-1zM743 614h1v1h-1zM744 614h1v1h-1zM745 614h1v1h-1zM749 614h1v1h-1zM750 614h1v1h-1zM751 614h1v1h-1zM755 613h1v1h-1zM756 613h1v1h-1zM757 613h1v1h-1zM761 614h1v1h-1zM762 614h1v1h-1zM763 614h1v1h-1zM767 615h1v1h-1zM768 615h1v1h-1zM769 615h1v1h-1zM773 616h1v1h-1zM774 616h1v1h-1zM775 617h1v1h-1zM779 618h1v1h-1zM780 619h1v1h-1zM781 619h1v1h-1zM785 621h1v1h-1zM786 622h1v1h-1zM787 622h1v1h-1zM791 624h1v1h-1zM792 625h1v1h-1zM793 625h1v1h-1zM797 627h1v1h-1zM798 628h1v1h-1zM799 628h1v1h-1zM803 630h1v1h-1zM804 631h1v1h-1zM805 631h1v1h-1zM809 634h1v1h-1zM810 634h1v1h-1zM811 635h1v1h-1zM815 637h1v1h-1zM816 638h1v1h-1zM817 638h1v1h-1zM821 640h1v1h-1zM822 641h1v1h-1zM823 641h1v1h-1zM827 643h1v1h-1zM828 644h1v1h-1zM829 644h1v1h-1zM833 646h1v1h-1zM834 646h1v1h-1zM835 646h1v1h-1zM839 648h1v1h-1zM840 648h1v1h-1zM841 649h1v1h-1zM845 650h1v1h-1zM846 650h1v1h-1zM847 651h1v1h-1zM851 652h1v1h-1zM852 652h1v1h-1zM853 652h1v1h-1zM857 652h1v1h-1zM858 652h1v1h-1zM859 652h1v1h-1zM863 652h1v1h-1zM864 652h1v1h-1zM865 652h1v1h-1zM869 652h1v1h-1zM870 652h1v1h-1zM871 652h1v1h-1zM875 651h1v1h-1zM876 651h1v1h-1zM877 651h1v1h-1zM881 650h1v1h-1zM882 650h1v1h-1zM883 650h1v1h-1zM887 649h1v1h-1zM888 649h1v1h-1zM889 649h1v1h-1zM893 648h1v1h-1zM894 648h1v1h-1zM895 647h1v1h-1zM899 646h1v1h-1zM900 646h1v1h-1zM901 646h1v1h-1zM905 645h1v1h-1zM906 645h1v1h-1zM907 644h1v1h-1zM911 643h1v1h-1zM912 643h1v1h-1zM913 642h1v1h-1zM917 641h1v1h-1zM918 641h1v1h-1zM919 640h1v1h-1zM923 639h1v1h-1zM924 639h1v1h-1zM925 639h1v1h-1zM929 638h1v1h-1zM930 638h1v1h-1zM931 637h1v1h-1zM935 636h1v1h-1zM936 636h1v1h-1zM937 636h1v1h-1zM941 635h1v1h-1zM942 635h1v1h-1zM943 634h1v1h-1zM947 633h1v1h-1zM948 632h1v1h-1zM949 632h1v1h-1zM953 631h1v1h-1zM954 631h1v1h-1zM955 630h1v1h-1zM959 629h1v1h-1zM960 629h1v1h-1zM961 629h1v1h-1zM965 628h1v1h-1zM966 628h1v1h-1zM967 627h1v1h-1zM971 626h1v1h-1zM972 625h1v1h-1zM973 625h1v1h-1zM977 623h1v1h-1zM978 623h1v1h-1zM979 623h1v1h-1zM983 621h1v1h-1zM984 620h1v1h-1zM985 620h1v1h-1zM989 618h1v1h-1zM990 617h1v1h-1zM991 617h1v1h-1zM995 615h1v1h-1zM996 614h1v1h-1zM997 614h1v1h-1zM1001 612h1v1h-1zM1002 611h1v1h-1zM1003 611h1v1h-1zM1007 609h1v1h-1zM1008 608h1v1h-1zM1009 607h1v1h-1zM1013 605h1v1h-1zM1014 604h1v1h-1zM1015 604h1v1h-1zM1019 601h1v1h-1zM1020 601h1v1h-1zM1021 600h1v1h-1zM1025 597h1v1h-1zM1026 597h1v1h-1zM1027 596h1v1h-1zM1031 594h1v1h-1zM1032 593h1v1h-1zM1033 593h1v1h-1zM1037 591h1v1h-1zM1038 590h1v1h-1zM1039 590h1v1h-1zM1043 588h1v1h-1zM1044 587h1v1h-1zM1045 587h1v1h-1zM1049 585h1v1h-1zM1050 585h1v1h-1zM1051 585h1v1h-1zM1055 583h1v1h-1zM1056 583h1v1h-1zM1057 583h1v1h-1zM1061 582h1v1h-1zM1062 582h1v1h-1zM1063 582h1v1h-1zM1067 581h1v1h-1zM1068 581h1v1h-1zM1069 581h1v1h-1zM1073 581h1v1h-1zM1074 581h1v1h-1zM1075 581h1v1h-1zM1079 581h1v1h-1zM1080 581h1v1h-1zM1081 582h1v1h-1zM1085 582h1v1h-1zM1086 582h1v1h-1zM1087 582h1v1h-1zM1091 583h1v1h-1zM1092 583h1v1h-1zM1093 583h1v1h-1zM1097 584h1v1h-1zM1098 584h1v1h-1zM1099 585h1v1h-1zM1103 585h1v1h-1zM1104 585h1v1h-1zM1105 586h1v1h-1zM1109 586h1v1h-1zM1110 586h1v1h-1zM1111 587h1v1h-1zM1115 588h1v1h-1zM1116 588h1v1h-1z" fill="#ff0000"/></g><rect x="1421" y="573" width="1" height="1" fill="#000"/><rect x="1421" y="632" width="1" height="1" fill="#000"/><rect x="1421" y="674" width="1" height="1" fill="#000"/><rect x="5" y="717" width="1415" height="1" fill="url(#dash)"/><rect x="5" y="768" width="1415" height="1" fill="url(#dash)"/><rect x="1421" y="679" width="1" height="1" fill="#000"/><path d="M1005 703h10v1h-10zM1004 704h1v1h-1zM1015 704h4v1h-4zM1003 705h1v1h-1zM1019 705h3v1h-3zM1001 706h2v1h-2zM1022 706h2v1h-2zM981 707h2v1h-2zM1000 707h1v1h-1zM1024 707h2v1h-2zM979 708h2v1h-2zM983 708h2v1h-2zM999 708h1v1h-1zM1026 708h2v1h-2zM978 709h1v1h-1zM985 709h3v1h-3zM998 709h1v1h-1zM1028 709h19v1h-19zM977 710h1v1h-1zM988 710h10v1h-10zM1047 710h4v1h-4zM975 711h2v1h-2zM1051 711h3v1h-3zM974 712h1v1h-1zM1054 712h1v1h-1zM973 713h1v1h-1zM1055 713h1v1h-1zM971 714h2v1h-2zM1056 714h1v1h-1zM970 715h1v1h-1zM1057 715h1v1h-1zM1068 715h2v1h-2zM540 716h2v1h-2zM969 716h1v1h-1zM1058 716h1v1h-1zM1066 716h2v1h-2zM1070 716h1v1h-1zM537 717h3v1h-3zM542 717h1v1h-1zM967 717h2v1h-2zM1059 717h1v1h-1zM1064 717h2v1h-2zM1071 717h1v1h-1zM535 718h2v1h-2zM542 718h1v1h-1zM693 718h1v1h-1zM966 718h1v1h-1zM1060 718h1v1h-1zM1062 718h2v1h-2zM1072 718h1v1h-1zM1113 718h5v1h-5zM532 719h3v1h-3zM543 719h1v1h-1zM692 719h1v1h-1zM694 719h1v1h-1zM965 719h1v1h-1zM1061 719h1v1h-1zM1073 719h1v1h-1zM1105 719h8v1h-8zM530 720h2v1h-2zM544 720h1v1h-1zM692 720h1v1h-1zM694 720h1v1h-1zM964 720h1v1h-1zM1074 720h1v1h-1zM1101 720h4v1h-4zM497 721h5v1h-5zM528 721h2v1h-2zM545 721h1v1h-1zM691 721h1v1h-1zM695 721h1v1h-1zM963 721h1v1h-1zM1075 721h1v1h-1zM1099 721h2v1h-2zM492 722h5v1h-5zM502 722h1v1h-1zM526 722h2v1h-2zM545 722h1v1h-1zM691 722h1v1h-1zM696 722h1v1h-1zM962 722h1v1h-1zM1076 722h1v1h-1zM1098 722h1v1h-1zM490 723h2v1h-2zM503 723h1v1h-1zM525 723h1v1h-1zM546 723h1v1h-1zM690 723h1v1h-1zM697 723h1v1h-1zM961 723h1v1h-1zM1077 723h1v1h-1zM1097 723h1v1h-1zM488 724h2v1h-2zM504 724h1v1h-1zM524 724h1v1h-1zM547 724h1v1h-1zM689 724h1v1h-1zM697 724h1v1h-1zM716 724h2v1h-2zM961 724h1v1h-1zM1078 724h2v1h-2zM1095 724h2v1h-2zM486 725h2v1h-2zM505 725h1v1h-1zM523 725h1v1h-1zM548 725h1v1h-1zM689 725h1v1h-1zM698 725h1v1h-1zM713 725h3v1h-3zM718 725h1v1h-1zM960 725h1v1h-1zM1080 725h1v1h-1zM1094 725h1v1h-1zM484 726h2v1h-2zM506 726h1v1h-1zM522 726h1v1h-1zM548 726h1v1h-1zM688 726h1v1h-1zM699 726h1v1h-1zM711 726h2v1h-2zM719 726h1v1h-1zM959 726h1v1h-1zM1081 726h2v1h-2zM1091 726h3v1h-3zM481 727h3v1h-3zM507 727h1v1h-1zM521 727h1v1h-1zM549 727h12v1h-12zM687 727h1v1h-1zM700 727h1v1h-1zM707 727h4v1h-4zM720 727h1v1h-1zM958 727h1v1h-1zM1083 727h2v1h-2zM1087 727h4v1h-4zM479 728h2v1h-2zM508 728h1v1h-1zM520 728h1v1h-1zM561 728h13v1h-13zM687 728h1v1h-1zM700 728h1v1h-1zM703 728h4v1h-4zM721 728h1v1h-1zM956 728h2v1h-2zM1085 728h2v1h-2zM379 729h6v1h-6zM477 729h2v1h-2zM509 729h2v1h-2zM519 729h1v1h-1zM574 729h1v1h-1zM677 729h2v1h-2zM686 729h1v1h-1zM701 729h2v1h-2zM722 729h1v1h-1zM954 729h2v1h-2zM375 730h4v1h-4zM385 730h5v1h-5zM475 730h2v1h-2zM511 730h4v1h-4zM518 730h1v1h-1zM575 730h1v1h-1zM676 730h1v1h-1zM679 730h4v1h-4zM686 730h1v1h-1zM723 730h1v1h-1zM952 730h2v1h-2zM369 731h6v1h-6zM390 731h2v1h-2zM473 731h2v1h-2zM515 731h3v1h-3zM575 731h1v1h-1zM676 731h1v1h-1zM683 731h3v1h-3zM724 731h1v1h-1zM929 731h16v1h-16zM950 731h2v1h-2zM361 732h8v1h-8zM392 732h1v1h-1zM472 732h1v1h-1zM576 732h1v1h-1zM675 732h1v1h-1zM725 732h1v1h-1zM925 732h4v1h-4zM945 732h5v1h-5zM356 733h5v1h-5zM393 733h2v1h-2zM403 733h3v1h-3zM470 733h2v1h-2zM577 733h1v1h-1zM675 733h1v1h-1zM726 733h1v1h-1zM924 733h1v1h-1zM354 734h2v1h-2zM395 734h2v1h-2zM399 734h4v1h-4zM406 734h2v1h-2zM460 734h10v1h-10zM578 734h1v1h-1zM674 734h1v1h-1zM727 734h1v1h-1zM923 734h1v1h-1zM352 735h2v1h-2zM397 735h2v1h-2zM408 735h1v1h-1zM437 735h2v1h-2zM457 735h3v1h-3zM579 735h1v1h-1zM674 735h1v1h-1zM728 735h1v1h-1zM921 735h2v1h-2zM350 736h2v1h-2zM409 736h2v1h-2zM435 736h2v1h-2zM439 736h4v1h-4zM455 736h2v1h-2zM579 736h1v1h-1zM673 736h1v1h-1zM729 736h1v1h-1zM920 736h1v1h-1zM125 737h4v1h-4zM348 737h2v1h-2zM411 737h2v1h-2zM434 737h1v1h-1zM443 737h12v1h-12zM580 737h1v1h-1zM672 737h1v1h-1zM729 737h1v1h-1zM897 737h5v1h-5zM919 737h1v1h-1zM124 738h1v1h-1zM129 738h5v1h-5zM346 738h2v1h-2zM413 738h4v1h-4zM433 738h1v1h-1zM581 738h2v1h-2zM672 738h1v1h-1zM730 738h1v1h-1zM885 738h12v1h-12zM902 738h2v1h-2zM918 738h1v1h-1zM29 739h2v1h-2zM123 739h1v1h-1zM134 739h1v1h-1zM344 739h2v1h-2zM417 739h6v1h-6zM431 739h2v1h-2zM583 739h4v1h-4zM593 739h6v1h-6zM636 739h2v1h-2zM671 739h1v1h-1zM731 739h1v1h-1zM884 739h1v1h-1zM904 739h2v1h-2zM915 739h3v1h-3zM28 740h1v1h-1zM31 740h2v1h-2zM123 740h1v1h-1zM134 740h1v1h-1zM342 740h2v1h-2zM423 740h4v1h-4zM430 740h1v1h-1zM587 740h6v1h-6zM599 740h4v1h-4zM633 740h3v1h-3zM638 740h1v1h-1zM671 740h1v1h-1zM732 740h1v1h-1zM861 740h2v1h-2zM883 740h1v1h-1zM906 740h2v1h-2zM911 740h4v1h-4zM27 741h1v1h-1zM33 741h3v1h-3zM122 741h1v1h-1zM135 741h1v1h-1zM205 741h1v1h-1zM341 741h1v1h-1zM427 741h3v1h-3zM603 741h6v1h-6zM617 741h8v1h-8zM631 741h2v1h-2zM638 741h1v1h-1zM670 741h1v1h-1zM733 741h10v1h-10zM860 741h1v1h-1zM863 741h2v1h-2zM881 741h2v1h-2zM908 741h3v1h-3zM5 742h1v1h-1zM26 742h1v1h-1zM36 742h5v1h-5zM121 742h1v1h-1zM136 742h1v1h-1zM173 742h2v1h-2zM204 742h1v1h-1zM206 742h1v1h-1zM340 742h1v1h-1zM609 742h8v1h-8zM625 742h6v1h-6zM639 742h1v1h-1zM653 742h2v1h-2zM670 742h1v1h-1zM743 742h2v1h-2zM860 742h1v1h-1zM865 742h3v1h-3zM880 742h1v1h-1zM6 743h1v1h-1zM25 743h1v1h-1zM41 743h8v1h-8zM120 743h1v1h-1zM137 743h1v1h-1zM173 743h1v1h-1zM175 743h4v1h-4zM204 743h1v1h-1zM207 743h1v1h-1zM339 743h1v1h-1zM640 743h1v1h-1zM652 743h1v1h-1zM655 743h2v1h-2zM667 743h3v1h-3zM745 743h3v1h-3zM753 743h5v1h-5zM859 743h1v1h-1zM868 743h3v1h-3zM879 743h1v1h-1zM6 744h1v1h-1zM24 744h1v1h-1zM49 744h8v1h-8zM119 744h1v1h-1zM137 744h1v1h-1zM172 744h1v1h-1zM179 744h3v1h-3zM203 744h1v1h-1zM207 744h1v1h-1zM253 744h2v1h-2zM338 744h1v1h-1zM641 744h1v1h-1zM651 744h1v1h-1zM657 744h3v1h-3zM663 744h4v1h-4zM748 744h5v1h-5zM758 744h2v1h-2zM858 744h1v1h-1zM871 744h4v1h-4zM878 744h1v1h-1zM7 745h1v1h-1zM23 745h1v1h-1zM57 745h5v1h-5zM119 745h1v1h-1zM138 745h1v1h-1zM172 745h1v1h-1zM182 745h1v1h-1zM203 745h1v1h-1zM208 745h1v1h-1zM252 745h1v1h-1zM255 745h2v1h-2zM337 745h1v1h-1zM641 745h1v1h-1zM650 745h1v1h-1zM660 745h3v1h-3zM760 745h2v1h-2zM857 745h1v1h-1zM875 745h3v1h-3zM8 746h1v1h-1zM22 746h1v1h-1zM62 746h1v1h-1zM118 746h1v1h-1zM139 746h1v1h-1zM156 746h2v1h-2zM171 746h1v1h-1zM182 746h1v1h-1zM202 746h1v1h-1zM209 746h1v1h-1zM252 746h1v1h-1zM257 746h3v1h-3zM309 746h17v1h-17zM337 746h1v1h-1zM642 746h1v1h-1zM649 746h1v1h-1zM762 746h2v1h-2zM857 746h1v1h-1zM9 747h1v1h-1zM21 747h1v1h-1zM63 747h1v1h-1zM116 747h2v1h-2zM140 747h1v1h-1zM154 747h2v1h-2zM158 747h1v1h-1zM171 747h1v1h-1zM183 747h1v1h-1zM202 747h1v1h-1zM210 747h1v1h-1zM251 747h1v1h-1zM260 747h5v1h-5zM309 747h1v1h-1zM326 747h2v1h-2zM336 747h1v1h-1zM643 747h1v1h-1zM648 747h1v1h-1zM764 747h2v1h-2zM856 747h1v1h-1zM9 748h1v1h-1zM19 748h2v1h-2zM64 748h1v1h-1zM113 748h3v1h-3zM140 748h1v1h-1zM152 748h2v1h-2zM158 748h1v1h-1zM170 748h1v1h-1zM184 748h1v1h-1zM201 748h1v1h-1zM211 748h1v1h-1zM250 748h1v1h-1zM265 748h8v1h-8zM308 748h1v1h-1zM328 748h2v1h-2zM335 748h1v1h-1zM644 748h1v1h-1zM647 748h1v1h-1zM766 748h2v1h-2zM855 748h1v1h-1zM10 749h1v1h-1zM18 749h1v1h-1zM65 749h1v1h-1zM101 749h4v1h-4zM111 749h2v1h-2zM141 749h4v1h-4zM150 749h2v1h-2zM159 749h1v1h-1zM170 749h1v1h-1zM184 749h1v1h-1zM200 749h1v1h-1zM211 749h1v1h-1zM250 749h1v1h-1zM273 749h5v1h-5zM308 749h1v1h-1zM330 749h2v1h-2zM334 749h1v1h-1zM644 749h1v1h-1zM646 749h1v1h-1zM768 749h1v1h-1zM844 749h3v1h-3zM854 749h1v1h-1zM11 750h1v1h-1zM17 750h1v1h-1zM66 750h1v1h-1zM100 750h1v1h-1zM105 750h6v1h-6zM145 750h5v1h-5zM159 750h1v1h-1zM169 750h1v1h-1zM185 750h1v1h-1zM200 750h1v1h-1zM212 750h1v1h-1zM249 750h1v1h-1zM278 750h1v1h-1zM307 750h1v1h-1zM332 750h2v1h-2zM645 750h1v1h-1zM769 750h2v1h-2zM841 750h3v1h-3zM847 750h4v1h-4zM854 750h1v1h-1zM12 751h1v1h-1zM15 751h2v1h-2zM67 751h1v1h-1zM99 751h1v1h-1zM160 751h1v1h-1zM169 751h1v1h-1zM186 751h1v1h-1zM199 751h1v1h-1zM213 751h2v1h-2zM248 751h1v1h-1zM279 751h1v1h-1zM307 751h1v1h-1zM771 751h2v1h-2zM839 751h2v1h-2zM851 751h3v1h-3zM12 752h1v1h-1zM14 752h1v1h-1zM68 752h1v1h-1zM99 752h1v1h-1zM161 752h1v1h-1zM168 752h1v1h-1zM186 752h1v1h-1zM199 752h1v1h-1zM215 752h4v1h-4zM248 752h1v1h-1zM280 752h1v1h-1zM306 752h1v1h-1zM773 752h1v1h-1zM828 752h11v1h-11zM13 753h1v1h-1zM69 753h1v1h-1zM98 753h1v1h-1zM161 753h1v1h-1zM168 753h1v1h-1zM187 753h1v1h-1zM198 753h1v1h-1zM219 753h4v1h-4zM247 753h1v1h-1zM281 753h1v1h-1zM306 753h1v1h-1zM774 753h1v1h-1zM825 753h3v1h-3zM70 754h1v1h-1zM97 754h1v1h-1zM162 754h1v1h-1zM167 754h1v1h-1zM188 754h1v1h-1zM198 754h1v1h-1zM223 754h4v1h-4zM246 754h1v1h-1zM282 754h1v1h-1zM305 754h1v1h-1zM774 754h1v1h-1zM823 754h2v1h-2zM71 755h1v1h-1zM96 755h1v1h-1zM163 755h1v1h-1zM167 755h1v1h-1zM188 755h1v1h-1zM193 755h5v1h-5zM227 755h4v1h-4zM246 755h1v1h-1zM283 755h1v1h-1zM291 755h3v1h-3zM305 755h1v1h-1zM775 755h1v1h-1zM820 755h3v1h-3zM72 756h1v1h-1zM95 756h1v1h-1zM163 756h1v1h-1zM166 756h1v1h-1zM189 756h4v1h-4zM231 756h2v1h-2zM243 756h3v1h-3zM284 756h1v1h-1zM287 756h4v1h-4zM294 756h1v1h-1zM304 756h1v1h-1zM775 756h1v1h-1zM797 756h10v1h-10zM818 756h2v1h-2zM73 757h2v1h-2zM95 757h1v1h-1zM164 757h1v1h-1zM166 757h1v1h-1zM233 757h3v1h-3zM239 757h4v1h-4zM285 757h2v1h-2zM295 757h1v1h-1zM304 757h1v1h-1zM776 757h1v1h-1zM795 757h2v1h-2zM807 757h2v1h-2zM816 757h2v1h-2zM75 758h1v1h-1zM94 758h1v1h-1zM164 758h2v1h-2zM236 758h3v1h-3zM296 758h1v1h-1zM303 758h1v1h-1zM777 758h1v1h-1zM794 758h1v1h-1zM809 758h3v1h-3zM814 758h2v1h-2zM76 759h1v1h-1zM81 759h13v1h-13zM165 759h1v1h-1zM297 759h1v1h-1zM303 759h1v1h-1zM777 759h1v1h-1zM793 759h1v1h-1zM812 759h2v1h-2zM77 760h4v1h-4zM298 760h1v1h-1zM302 760h1v1h-1zM778 760h1v1h-1zM791 760h2v1h-2zM299 761h1v1h-1zM302 761h1v1h-1zM779 761h1v1h-1zM790 761h1v1h-1zM300 762h2v1h-2zM779 762h1v1h-1zM788 762h2v1h-2zM301 763h1v1h-1zM780 763h1v1h-1zM785 763h3v1h-3zM780 764h1v1h-1zM783 764h2v1h-2zM781 765h2v1h-2z" fill="#1e90ff"/><rect x="5" y="808" width="1" height="3" fill="#000"/><rect x="69" y="808" width="1" height="3" fill="#000"/><rect x="133" y="808" width="1" height="3" fill="#000"/><rect x="197" y="808" width="1" height="3" fill="#000"/><rect x="261" y="808" width="1" height="3" fill="#000"/><rect x="325" y="808" width="1" height="3" fill="#000"/><rect x="389" y="808" width="1" height="3" fill="#000"/><rect x="453" y="808" width="1" height="3" fill="#000"/><rect x="517" y="808" width="1" height="3" fill="#000"/><rect x="581" y="808" width="1" height="3" fill="#000"/><rect x="645" y="808" width="1" height="3" fill="#000"/><rect x="709" y="808" width="1" height="3" fill="#000"/><rect x="773" y="808" width="1" height="3" fill="#000"/><rect x="837" y="808" width="1" height="3" fill="#000"/><rect x="901" y="808" width="1" height="3" fill="#000"/><rect x="965" y="808" width="1" height="3" fill="#000"/><rect x="1029" y="808" width="1" height="3" fill="#000"/><rect x="1093" y="808" width="1" height="3" fill="#000"/><rect x="222" y="830" width="108" height="19" fill="#ffffff"/><rect x="222" y="831" width="1" height="18" fill="#000"/><rect x="329" y="831" width="1" height="18" fill="#000"/><rect x="222" y="848" width="108" height="1" fill="#000"/><rect x="114" y="833" width="1" height="14" fill="#6d6d6d"/><rect x="439" y="833" width="1" height="14" fill="#6d6d6d"/><rect x="550" y="833" width="1" height="14" fill="#6d6d6d"/><rect x="670" y="833" width="1" height="14" fill="#6d6d6d"/><polygon points="1439.5,835.5 1439.5,842.5 1436,839" fill="#a0a0a0" shape-rendering="auto"/><polygon points="1455,835.5 1455,842.5 1458.5,839" fill="#a0a0a0" shape-rendering="auto"/></svg>
<div class="t" style="left:6.8px;top:9px;font-size:9.6px;color:#505050;transform:scaleX(1.06);">H4</div><div class="t" style="left:35.8px;top:9px;font-size:9.6px;color:#505050;transform:scaleX(1.06);">D1</div><div class="t" style="left:63.8px;top:9px;font-size:9.6px;color:#505050;transform:scaleX(1.06);">W1</div><div class="t" style="left:89.8px;top:9px;font-size:9.6px;color:#505050;transform:scaleX(1.06);">MN</div><svg style="position:absolute;left:0;top:0" width="20" height="45"><polygon points="8,36 15,36 11.5,40" fill="#000"/></svg><div class="t" style="left:19.5px;top:34px;font-size:10px;color:#000;transform:scaleX(0.97);-webkit-text-stroke:0.2px #000">USDCHF-,Daily</div><div class="t" style="left:94.5px;top:34px;font-size:10px;color:#000;transform:scaleX(0.92);-webkit-text-stroke:0.2px #000">1.02030 1.02063 1.01997 1.02055</div><div class="t" style="left:9px;top:576px;font-size:10px;color:#000;transform:scaleX(0.934);-webkit-text-stroke:0.2px #000">MACD(12,26,9) 0.003853 0.004468</div><div class="t" style="left:9.5px;top:683px;font-size:10px;color:#000;transform:scaleX(0.92);-webkit-text-stroke:0.2px #000">RSI(14) 69.0643</div><div class="t" style="left:1425.5px;top:33.5px;font-size:9.4px;color:#000;transform:scaleX(0.96);-webkit-text-stroke:0.25px #000">1.02550</div><div class="t" style="left:1425.5px;top:66.5px;font-size:9.4px;color:#000;transform:scaleX(0.96);-webkit-text-stroke:0.25px #000">1.02210</div><div class="t" style="left:1425.5px;top:99.5px;font-size:9.4px;color:#000;transform:scaleX(0.96);-webkit-text-stroke:0.25px #000">1.01860</div><div class="t" style="left:1425.5px;top:132.5px;font-size:9.4px;color:#000;transform:scaleX(0.96);-webkit-text-stroke:0.25px #000">1.01520</div><div class="t" style="left:1425.5px;top:165.5px;font-size:9.4px;color:#000;transform:scaleX(0.96);-webkit-text-stroke:0.25px #000">1.01180</div><div class="t" style="left:1425.5px;top:198.5px;font-size:9.4px;color:#000;transform:scaleX(0.96);-webkit-text-stroke:0.25px #000">1.00830</div><div class="t" style="left:1425.5px;top:231.5px;font-size:9.4px;color:#000;transform:scaleX(0.96);-webkit-text-stroke:0.25px #000">1.00490</div><div class="t" style="left:1425.5px;top:264.5px;font-size:9.4px;color:#000;transform:scaleX(0.96);-webkit-text-stroke:0.25px #000">1.00140</div><div class="t" style="left:1425.5px;top:297.5px;font-size:9.4px;color:#000;transform:scaleX(0.96);-webkit-text-stroke:0.25px #000">0.99800</div><div class="t" style="left:1425.5px;top:330.5px;font-size:9.4px;color:#000;transform:scaleX(0.96);-webkit-text-stroke:0.25px #000">0.99450</div><div class="t" style="left:1425.5px;top:363.5px;font-size:9.4px;color:#000;transform:scaleX(0.96);-webkit-text-stroke:0.25px #000">0.99110</div><div class="t" style="left:1425.5px;top:396.5px;font-size:9.4px;color:#000;transform:scaleX(0.96);-webkit-text-stroke:0.25px #000">0.98770</div><div class="t" style="left:1425.5px;top:429.5px;font-size:9.4px;color:#000;transform:scaleX(0.96);-webkit-text-stroke:0.25px #000">0.98420</div><div class="t" style="left:1425.5px;top:462.5px;font-size:9.4px;color:#000;transform:scaleX(0.96);-webkit-text-stroke:0.25px #000">0.98080</div><div class="t" style="left:1425.5px;top:495.5px;font-size:9.4px;color:#000;transform:scaleX(0.96);-webkit-text-stroke:0.25px #000">0.97730</div><div class="t" style="left:1425.5px;top:528.5px;font-size:9.4px;color:#000;transform:scaleX(0.96);-webkit-text-stroke:0.25px #000">0.97390</div><div class="t" style="left:1425.5px;top:561.5px;font-size:9.4px;color:#000;transform:scaleX(0.96);-webkit-text-stroke:0.25px #000">0.97050</div><div class="t" style="left:1425.5px;top:81.5px;font-size:9.4px;color:#fff;transform:scaleX(0.96);-webkit-text-stroke:0.25px #fff">1.02055</div><div class="t" style="left:1423.5px;top:573.5px;font-size:9.4px;color:#000;transform:scaleX(0.96);-webkit-text-stroke:0.25px #000">0.00597</div><div class="t" style="left:1423.5px;top:627.5px;font-size:9.4px;color:#000;transform:scaleX(0.96);-webkit-text-stroke:0.25px #000">0.00</div><div class="t" style="left:1423.5px;top:663.5px;font-size:9.4px;color:#000;transform:scaleX(0.96);-webkit-text-stroke:0.25px #000">-0.004243</div><div class="t" style="left:1423.5px;top:679.5px;font-size:9.4px;color:#000;transform:scaleX(0.96);-webkit-text-stroke:0.25px #000">100</div><div class="t" style="left:1423.5px;top:712.5px;font-size:9.4px;color:#000;transform:scaleX(0.96);-webkit-text-stroke:0.25px #000">70</div><div class="t" style="left:1423.5px;top:763.5px;font-size:9.4px;color:#000;transform:scaleX(0.96);-webkit-text-stroke:0.25px #000">30</div><div class="t" style="left:1423.5px;top:795.5px;font-size:9.4px;color:#000;transform:scaleX(0.96);-webkit-text-stroke:0.25px #000">0</div><div class="t" style="left:4px;top:812px;font-size:10px;color:#000;transform:scaleX(0.94);-webkit-text-stroke:0.2px #000">27 Nov 2018</div><div class="t" style="left:68px;top:812px;font-size:10px;color:#000;transform:scaleX(0.94);-webkit-text-stroke:0.2px #000">6 Dec 2018</div><div class="t" style="left:132px;top:812px;font-size:10px;color:#000;transform:scaleX(0.94);-webkit-text-stroke:0.2px #000">16 Dec 2018</div><div class="t" style="left:196px;top:812px;font-size:10px;color:#000;transform:scaleX(0.94);-webkit-text-stroke:0.2px #000">25 Dec 2018</div><div class="t" style="left:260px;top:812px;font-size:10px;color:#000;transform:scaleX(0.94);-webkit-text-stroke:0.2px #000">3 Jan 2019</div><div class="t" style="left:324px;top:812px;font-size:10px;color:#000;transform:scaleX(0.94);-webkit-text-stroke:0.2px #000">13 Jan 2019</div><div class="t" style="left:388px;top:812px;font-size:10px;color:#000;transform:scaleX(0.94);-webkit-text-stroke:0.2px #000">22 Jan 2019</div><div class="t" style="left:452px;top:812px;font-size:10px;color:#000;transform:scaleX(0.94);-webkit-text-stroke:0.2px #000">31 Jan 2019</div><div class="t" style="left:516px;top:812px;font-size:10px;color:#000;transform:scaleX(0.94);-webkit-text-stroke:0.2px #000">10 Feb 2019</div><div class="t" style="left:580px;top:812px;font-size:10px;color:#000;transform:scaleX(0.94);-webkit-text-stroke:0.2px #000">19 Feb 2019</div><div class="t" style="left:644px;top:812px;font-size:10px;color:#000;transform:scaleX(0.94);-webkit-text-stroke:0.2px #000">28 Feb 2019</div><div class="t" style="left:708px;top:812px;font-size:10px;color:#000;transform:scaleX(0.94);-webkit-text-stroke:0.2px #000">10 Mar 2019</div><div class="t" style="left:772px;top:812px;font-size:10px;color:#000;transform:scaleX(0.94);-webkit-text-stroke:0.2px #000">19 Mar 2019</div><div class="t" style="left:836px;top:812px;font-size:10px;color:#000;transform:scaleX(0.94);-webkit-text-stroke:0.2px #000">28 Mar 2019</div><div class="t" style="left:900px;top:812px;font-size:10px;color:#000;transform:scaleX(0.94);-webkit-text-stroke:0.2px #000">7 Apr 2019</div><div class="t" style="left:964px;top:812px;font-size:10px;color:#000;transform:scaleX(0.94);-webkit-text-stroke:0.2px #000">16 Apr 2019</div><div class="t" style="left:1028px;top:812px;font-size:10px;color:#000;transform:scaleX(0.94);-webkit-text-stroke:0.2px #000">26 Apr 2019</div><div class="t" style="left:1092px;top:812px;font-size:10px;color:#000;transform:scaleX(0.94);-webkit-text-stroke:0.2px #000">6 May 2019</div><div class="t" style="left:16.5px;top:835px;font-size:12px;color:#6d6d6d;transform:scaleX(1.02);">EURUSD-,Daily</div><div class="t" style="left:123.5px;top:835px;font-size:12px;color:#6d6d6d;transform:scaleX(1.025);">AUDUSD-,Daily</div><div class="t" style="left:234.5px;top:835px;font-size:12px;color:#000;transform:scaleX(1.0);">USDCHF-,Daily</div><div class="t" style="left:340.5px;top:835px;font-size:12px;color:#6d6d6d;transform:scaleX(1.025);">USDCAD-,Daily</div><div class="t" style="left:449.5px;top:835px;font-size:12px;color:#6d6d6d;transform:scaleX(1.025);">USDCNH-,Daily</div><div class="t" style="left:560px;top:835px;font-size:12px;color:#6d6d6d;transform:scaleX(1.02);">EURCHF-,Weekly</div>
</body></html>
